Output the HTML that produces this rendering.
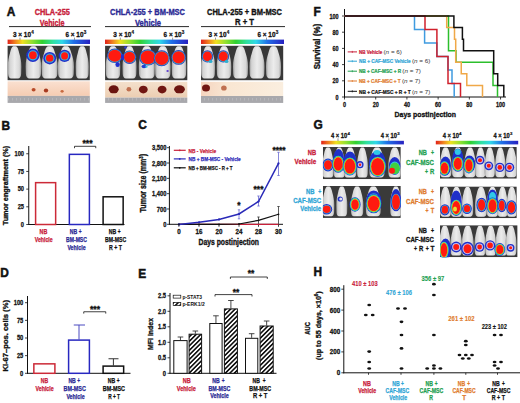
<!DOCTYPE html>
<html><head><meta charset="utf-8"><title>Figure</title>
<style>
html,body{margin:0;padding:0;background:#fff;width:520px;height:403px;overflow:hidden;}
svg{display:block;font-family:"Liberation Sans", sans-serif;}
</style></head>
<body>
<svg width="520" height="403" viewBox="0 0 520 403">
<rect width="520" height="403" fill="#fff"/>
<defs>
<linearGradient id="cbar" x1="0" x2="1" y1="0" y2="0"><stop offset="0" stop-color="#e0201a"/><stop offset="0.09" stop-color="#f08020"/><stop offset="0.18" stop-color="#f0e020"/><stop offset="0.3" stop-color="#90e030"/><stop offset="0.42" stop-color="#30d030"/><stop offset="0.55" stop-color="#30e0a0"/><stop offset="0.66" stop-color="#30d8e8"/><stop offset="0.8" stop-color="#2070e8"/><stop offset="1" stop-color="#2820c0"/></linearGradient>
<linearGradient id="peach" x1="0" x2="0" y1="0" y2="1"><stop offset="0" stop-color="#fae0d0"/><stop offset="1" stop-color="#f5ccb2"/></linearGradient>
<linearGradient id="peach2" x1="0" x2="0" y1="0" y2="1"><stop offset="0" stop-color="#f4e0cc"/><stop offset="1" stop-color="#ecceb2"/></linearGradient>
<linearGradient id="peach3" x1="0" x2="1" y1="0" y2="0"><stop offset="0" stop-color="#f5d4bf"/><stop offset="0.3" stop-color="#f9e6d2"/><stop offset="1" stop-color="#faeedf"/></linearGradient>
<linearGradient id="mouse" x1="0" x2="1" y1="0" y2="0"><stop offset="0" stop-color="#a0a0a0"/><stop offset="0.15" stop-color="#d4d4d4"/><stop offset="0.5" stop-color="#ececec"/><stop offset="0.85" stop-color="#d8d8d8"/><stop offset="1" stop-color="#a4a4a4"/></linearGradient>
<pattern id="hatch" patternUnits="userSpaceOnUse" width="3.2" height="3.2" patternTransform="rotate(45)"><rect width="3.2" height="3.2" fill="#fff"/><rect width="1.6" height="3.2" fill="#111"/></pattern>
<pattern id="ruler" patternUnits="userSpaceOnUse" width="4" height="7"><rect width="4" height="7" fill="#a8a8ac"/><rect x="0" y="0" width="1" height="2.5" fill="#b6b6ba"/><rect x="0" y="4" width="4" height="0.8" fill="#b0b0b4"/></pattern>
</defs>
<text x="6.80" y="16.00" font-size="13.2" fill="#111" font-weight="bold" stroke="#111" stroke-width="0.53" textLength="8.58" lengthAdjust="spacingAndGlyphs" >A</text>
<line x1="9.00" y1="26.60" x2="91.00" y2="26.60" stroke="#111" stroke-width="0.9" />
<line x1="105.00" y1="26.60" x2="189.00" y2="26.60" stroke="#111" stroke-width="0.9" />
<line x1="201.00" y1="26.60" x2="285.00" y2="26.60" stroke="#111" stroke-width="0.9" />
<text x="34.70" y="15.00" font-size="9.1" fill="#c8203a" font-weight="bold" stroke="#c8203a" stroke-width="0.36" textLength="35.20" lengthAdjust="spacingAndGlyphs" >CHLA-255</text>
<text x="39.80" y="25.60" font-size="9.1" fill="#c8203a" font-weight="bold" stroke="#c8203a" stroke-width="0.36" textLength="24.80" lengthAdjust="spacingAndGlyphs" >Vehicle</text>
<text x="110.00" y="15.00" font-size="9.1" fill="#2b2a95" font-weight="bold" stroke="#2b2a95" stroke-width="0.36" textLength="75.00" lengthAdjust="spacingAndGlyphs" >CHLA-255 + BM-MSC</text>
<text x="135.00" y="25.60" font-size="9.1" fill="#2b2a95" font-weight="bold" stroke="#2b2a95" stroke-width="0.36" textLength="26.00" lengthAdjust="spacingAndGlyphs" >Vehicle</text>
<text x="207.00" y="15.00" font-size="9.1" fill="#111" font-weight="bold" stroke="#111" stroke-width="0.36" textLength="75.00" lengthAdjust="spacingAndGlyphs" >CHLA-255 + BM-MSC</text>
<text x="235.00" y="25.20" font-size="9.1" fill="#111" font-weight="bold" stroke="#111" stroke-width="0.36" textLength="19.00" lengthAdjust="spacingAndGlyphs" >R + T</text>
<text x="13.00" y="37.20" font-size="7.7" fill="#111" font-weight="bold" stroke="#111" stroke-width="0.31" textLength="18.00" lengthAdjust="spacingAndGlyphs" >3 × 10</text>
<text x="31.20" y="34.20" font-size="4.6" fill="#111" font-weight="bold" stroke="#111" stroke-width="0.18" >4</text>
<text x="65.50" y="37.20" font-size="7.7" fill="#111" font-weight="bold" stroke="#111" stroke-width="0.31" textLength="18.00" lengthAdjust="spacingAndGlyphs" >6 × 10</text>
<text x="83.70" y="34.20" font-size="4.6" fill="#111" font-weight="bold" stroke="#111" stroke-width="0.18" >3</text>
<rect x="7.60" y="39.60" width="82.40" height="4.40" fill="url(#cbar)" stroke="none" stroke-width="1.0" />
<line x1="20.00" y1="37.60" x2="20.00" y2="39.80" stroke="#555" stroke-width="0.6" />
<line x1="74.50" y1="37.60" x2="74.50" y2="39.80" stroke="#555" stroke-width="0.6" />
<text x="113.30" y="37.20" font-size="7.7" fill="#111" font-weight="bold" stroke="#111" stroke-width="0.31" textLength="18.00" lengthAdjust="spacingAndGlyphs" >3 × 10</text>
<text x="131.50" y="34.20" font-size="4.6" fill="#111" font-weight="bold" stroke="#111" stroke-width="0.18" >4</text>
<text x="163.60" y="37.20" font-size="7.7" fill="#111" font-weight="bold" stroke="#111" stroke-width="0.31" textLength="18.00" lengthAdjust="spacingAndGlyphs" >6 × 10</text>
<text x="181.80" y="34.20" font-size="4.6" fill="#111" font-weight="bold" stroke="#111" stroke-width="0.18" >3</text>
<rect x="105.00" y="39.60" width="83.00" height="4.40" fill="url(#cbar)" stroke="none" stroke-width="1.0" />
<line x1="120.30" y1="37.60" x2="120.30" y2="39.80" stroke="#555" stroke-width="0.6" />
<line x1="172.60" y1="37.60" x2="172.60" y2="39.80" stroke="#555" stroke-width="0.6" />
<text x="208.50" y="37.20" font-size="7.7" fill="#111" font-weight="bold" stroke="#111" stroke-width="0.31" textLength="18.00" lengthAdjust="spacingAndGlyphs" >3 × 10</text>
<text x="226.70" y="34.20" font-size="4.6" fill="#111" font-weight="bold" stroke="#111" stroke-width="0.18" >4</text>
<text x="257.50" y="37.20" font-size="7.7" fill="#111" font-weight="bold" stroke="#111" stroke-width="0.31" textLength="18.00" lengthAdjust="spacingAndGlyphs" >6 × 10</text>
<text x="275.70" y="34.20" font-size="4.6" fill="#111" font-weight="bold" stroke="#111" stroke-width="0.18" >3</text>
<rect x="201.00" y="39.60" width="83.00" height="4.40" fill="url(#cbar)" stroke="none" stroke-width="1.0" />
<line x1="215.50" y1="37.60" x2="215.50" y2="39.80" stroke="#555" stroke-width="0.6" />
<line x1="266.50" y1="37.60" x2="266.50" y2="39.80" stroke="#555" stroke-width="0.6" />
<rect x="7.60" y="45.80" width="82.20" height="34.40" fill="#383838" stroke="none" stroke-width="1.0" />
<path d="M13.12,46.30 L16.09,46.30 C17.43,46.98 18.52,49.69 19.19,53.08 C20.54,57.83 21.35,61.22 21.35,66.64 L21.15,74.10 Q20.81,78.50 17.98,78.50 L11.22,78.50 Q8.39,78.50 8.05,74.10 L7.85,66.64 C7.85,61.22 8.66,57.83 10.01,53.08 C10.69,49.69 11.77,46.98 13.12,46.30 Z" fill="url(#mouse)"/>
<path d="M31.70,46.30 L35.10,46.30 C36.66,46.98 37.89,49.69 38.67,53.08 C40.22,57.83 41.15,61.22 41.15,66.64 L40.92,74.10 Q40.53,78.50 37.27,78.50 L29.52,78.50 Q26.27,78.50 25.88,74.10 L25.65,66.64 C25.65,61.22 26.58,57.83 28.13,53.08 C28.90,49.69 30.14,46.98 31.70,46.30 Z" fill="url(#mouse)"/>
<path d="M47.84,46.30 L51.36,46.30 C52.96,46.98 54.24,49.69 55.04,53.08 C56.64,57.83 57.60,61.22 57.60,66.64 L57.36,74.10 Q56.96,78.50 53.60,78.50 L45.60,78.50 Q42.24,78.50 41.84,74.10 L41.60,66.64 C41.60,61.22 42.56,57.83 44.16,53.08 C44.96,49.69 46.24,46.98 47.84,46.30 Z" fill="url(#mouse)"/>
<path d="M64.14,46.30 L67.66,46.30 C69.26,46.98 70.54,49.69 71.34,53.08 C72.94,57.83 73.90,61.22 73.90,66.64 L73.66,74.10 Q73.26,78.50 69.90,78.50 L61.90,78.50 Q58.54,78.50 58.14,74.10 L57.90,66.64 C57.90,61.22 58.86,57.83 60.46,53.08 C61.26,49.69 62.54,46.98 64.14,46.30 Z" fill="url(#mouse)"/>
<path d="M80.77,46.30 L83.63,46.30 C84.93,46.98 85.97,49.69 86.62,53.08 C87.92,57.83 88.70,61.22 88.70,66.64 L88.50,74.10 Q88.18,78.50 85.45,78.50 L78.95,78.50 Q76.22,78.50 75.90,74.10 L75.70,66.64 C75.70,61.22 76.48,57.83 77.78,53.08 C78.43,49.69 79.47,46.98 80.77,46.30 Z" fill="url(#mouse)"/>
<ellipse cx="32.90" cy="55.30" rx="6.60" ry="6.80" fill="#2230c8" />
<ellipse cx="32.90" cy="55.30" rx="4.95" ry="5.10" fill="#30b8e0" />
<ellipse cx="32.90" cy="55.30" rx="3.83" ry="3.94" fill="#ff1a10" />
<ellipse cx="49.70" cy="58.20" rx="6.40" ry="6.20" fill="#2230c8" />
<ellipse cx="49.70" cy="58.20" rx="4.80" ry="4.65" fill="#30b8e0" />
<ellipse cx="49.70" cy="58.20" rx="3.71" ry="3.60" fill="#ff1a10" />
<ellipse cx="64.60" cy="55.90" rx="6.00" ry="6.20" fill="#2230c8" />
<ellipse cx="64.60" cy="55.90" rx="4.50" ry="4.65" fill="#30b8e0" />
<ellipse cx="64.60" cy="55.90" rx="3.48" ry="3.60" fill="#ff1a10" />
<rect x="105.10" y="45.80" width="82.20" height="34.40" fill="#383838" stroke="none" stroke-width="1.0" />
<path d="M111.41,46.30 L114.59,46.30 C116.05,46.98 117.20,49.69 117.93,53.08 C119.38,57.83 120.25,61.22 120.25,66.64 L120.03,74.10 Q119.67,78.50 116.62,78.50 L109.38,78.50 Q106.33,78.50 105.97,74.10 L105.75,66.64 C105.75,61.22 106.62,57.83 108.07,53.08 C108.80,49.69 109.95,46.98 111.41,46.30 Z" fill="url(#mouse)"/>
<path d="M127.96,46.30 L131.04,46.30 C132.44,46.98 133.56,49.69 134.26,53.08 C135.66,57.83 136.50,61.22 136.50,66.64 L136.29,74.10 Q135.94,78.50 133.00,78.50 L126.00,78.50 Q123.06,78.50 122.71,74.10 L122.50,66.64 C122.50,61.22 123.34,57.83 124.74,53.08 C125.44,49.69 126.56,46.98 127.96,46.30 Z" fill="url(#mouse)"/>
<path d="M145.04,46.30 L148.56,46.30 C150.16,46.98 151.44,49.69 152.24,53.08 C153.84,57.83 154.80,61.22 154.80,66.64 L154.56,74.10 Q154.16,78.50 150.80,78.50 L142.80,78.50 Q139.44,78.50 139.04,74.10 L138.80,66.64 C138.80,61.22 139.76,57.83 141.36,53.08 C142.16,49.69 143.44,46.98 145.04,46.30 Z" fill="url(#mouse)"/>
<path d="M161.09,46.30 L164.51,46.30 C166.06,46.98 167.30,49.69 168.07,53.08 C169.62,57.83 170.55,61.22 170.55,66.64 L170.32,74.10 Q169.93,78.50 166.68,78.50 L158.93,78.50 Q155.67,78.50 155.28,74.10 L155.05,66.64 C155.05,61.22 155.98,57.83 157.53,53.08 C158.31,49.69 159.55,46.98 161.09,46.30 Z" fill="url(#mouse)"/>
<path d="M177.41,46.30 L180.59,46.30 C182.04,46.98 183.21,49.69 183.93,53.08 C185.38,57.83 186.25,61.22 186.25,66.64 L186.03,74.10 Q185.67,78.50 182.62,78.50 L175.38,78.50 Q172.33,78.50 171.97,74.10 L171.75,66.64 C171.75,61.22 172.62,57.83 174.07,53.08 C174.79,49.69 175.96,46.98 177.41,46.30 Z" fill="url(#mouse)"/>
<ellipse cx="114.80" cy="55.80" rx="7.80" ry="7.30" fill="#2838c0" />
<ellipse cx="114.80" cy="55.80" rx="7.10" ry="6.60" fill="#30b0c8" />
<ellipse cx="114.80" cy="55.80" rx="6.50" ry="6.00" fill="#ff1a10" />
<ellipse cx="129.50" cy="57.20" rx="6.80" ry="6.80" fill="#2838c0" />
<ellipse cx="129.50" cy="57.20" rx="6.10" ry="6.10" fill="#30b0c8" />
<ellipse cx="129.50" cy="57.20" rx="5.50" ry="5.50" fill="#ff1a10" />
<ellipse cx="147.90" cy="57.40" rx="8.60" ry="8.20" fill="#2838c0" />
<ellipse cx="147.90" cy="57.40" rx="7.90" ry="7.50" fill="#30b0c8" />
<ellipse cx="147.90" cy="57.40" rx="7.30" ry="6.90" fill="#ff1a10" />
<ellipse cx="161.70" cy="58.30" rx="8.00" ry="8.00" fill="#2838c0" />
<ellipse cx="161.70" cy="58.30" rx="7.30" ry="7.30" fill="#30b0c8" />
<ellipse cx="161.70" cy="58.30" rx="6.70" ry="6.70" fill="#ff1a10" />
<ellipse cx="178.60" cy="57.40" rx="7.40" ry="7.40" fill="#2838c0" />
<ellipse cx="178.60" cy="57.40" rx="6.70" ry="6.70" fill="#30b0c8" />
<ellipse cx="178.60" cy="57.40" rx="6.10" ry="6.10" fill="#ff1a10" />
<rect x="201.00" y="45.80" width="82.20" height="34.40" fill="#383838" stroke="none" stroke-width="1.0" />
<path d="M206.46,46.30 L209.54,46.30 C210.94,46.98 212.06,49.69 212.76,53.08 C214.16,57.83 215.00,61.22 215.00,66.64 L214.79,74.10 Q214.44,78.50 211.50,78.50 L204.50,78.50 Q201.56,78.50 201.21,74.10 L201.00,66.64 C201.00,61.22 201.84,57.83 203.24,53.08 C203.94,49.69 205.06,46.98 206.46,46.30 Z" fill="url(#mouse)"/>
<path d="M222.41,46.30 L225.59,46.30 C227.04,46.98 228.21,49.69 228.93,53.08 C230.38,57.83 231.25,61.22 231.25,66.64 L231.03,74.10 Q230.67,78.50 227.62,78.50 L220.38,78.50 Q217.33,78.50 216.97,74.10 L216.75,66.64 C216.75,61.22 217.62,57.83 219.07,53.08 C219.79,49.69 220.96,46.98 222.41,46.30 Z" fill="url(#mouse)"/>
<path d="M238.85,46.30 L242.15,46.30 C243.65,46.98 244.85,49.69 245.60,53.08 C247.10,57.83 248.00,61.22 248.00,66.64 L247.78,74.10 Q247.40,78.50 244.25,78.50 L236.75,78.50 Q233.60,78.50 233.22,74.10 L233.00,66.64 C233.00,61.22 233.90,57.83 235.40,53.08 C236.15,49.69 237.35,46.98 238.85,46.30 Z" fill="url(#mouse)"/>
<path d="M255.35,46.30 L258.65,46.30 C260.15,46.98 261.35,49.69 262.10,53.08 C263.60,57.83 264.50,61.22 264.50,66.64 L264.27,74.10 Q263.90,78.50 260.75,78.50 L253.25,78.50 Q250.10,78.50 249.72,74.10 L249.50,66.64 C249.50,61.22 250.40,57.83 251.90,53.08 C252.65,49.69 253.85,46.98 255.35,46.30 Z" fill="url(#mouse)"/>
<path d="M271.85,46.30 L275.15,46.30 C276.65,46.98 277.85,49.69 278.60,53.08 C280.10,57.83 281.00,61.22 281.00,66.64 L280.77,74.10 Q280.40,78.50 277.25,78.50 L269.75,78.50 Q266.60,78.50 266.23,74.10 L266.00,66.64 C266.00,61.22 266.90,57.83 268.40,53.08 C269.15,49.69 270.35,46.98 271.85,46.30 Z" fill="url(#mouse)"/>
<ellipse cx="207.40" cy="56.40" rx="5.80" ry="6.20" fill="#2838c0" />
<ellipse cx="207.40" cy="56.40" rx="5.10" ry="5.50" fill="#30b0c8" />
<ellipse cx="207.40" cy="56.40" rx="4.50" ry="4.90" fill="#ff1a10" />
<ellipse cx="223.30" cy="56.40" rx="5.80" ry="6.20" fill="#2838c0" />
<ellipse cx="223.30" cy="56.40" rx="5.10" ry="5.50" fill="#30b0c8" />
<ellipse cx="223.30" cy="56.40" rx="4.50" ry="4.90" fill="#ff1a10" />
<ellipse cx="117.60" cy="64.50" rx="2.20" ry="2.60" fill="#2030d0" />
<ellipse cx="122.50" cy="57.00" rx="1.60" ry="3.00" fill="#2030d0" />
<ellipse cx="144.00" cy="66.50" rx="2.50" ry="1.80" fill="#2040d0" />
<ellipse cx="146.50" cy="66.80" rx="1.20" ry="1.00" fill="#30c0e0" />
<ellipse cx="167.60" cy="71.00" rx="1.20" ry="0.90" fill="#6040d0" />
<ellipse cx="125.50" cy="47.50" rx="1.30" ry="1.30" fill="#3040d0" />
<ellipse cx="210.50" cy="61.50" rx="2.00" ry="1.50" fill="#30b0d0" />
<ellipse cx="226.50" cy="61.50" rx="2.00" ry="1.50" fill="#30b0d0" />
<rect x="7.60" y="81.30" width="82.20" height="14.60" fill="url(#peach)" stroke="none" stroke-width="1.0" />
<rect x="105.10" y="81.80" width="82.20" height="15.80" fill="url(#peach2)" stroke="none" stroke-width="1.0" />
<rect x="201.00" y="81.80" width="82.20" height="14.20" fill="url(#peach3)" stroke="none" stroke-width="1.0" />
<rect x="7.60" y="95.90" width="82.20" height="7.10" fill="url(#ruler)" stroke="none" stroke-width="1.0" />
<rect x="105.10" y="97.60" width="82.20" height="5.40" fill="url(#ruler)" stroke="none" stroke-width="1.0" />
<rect x="201.00" y="96.00" width="82.20" height="7.00" fill="url(#ruler)" stroke="none" stroke-width="1.0" />
<ellipse cx="33.60" cy="89.70" rx="2.00" ry="1.80" fill="#b84a28" />
<ellipse cx="46.00" cy="90.50" rx="2.20" ry="1.90" fill="#a83a20" />
<ellipse cx="62.10" cy="91.30" rx="1.60" ry="1.40" fill="#c86a40" />
<ellipse cx="113.70" cy="89.30" rx="5.00" ry="4.00" fill="#6a1410" />
<ellipse cx="128.90" cy="89.30" rx="2.40" ry="2.20" fill="#c07050" />
<ellipse cx="143.30" cy="89.60" rx="4.40" ry="3.90" fill="#701612" />
<ellipse cx="162.10" cy="89.60" rx="4.40" ry="3.90" fill="#701612" />
<ellipse cx="179.50" cy="89.30" rx="5.40" ry="4.00" fill="#6c1511" />
<ellipse cx="206.00" cy="87.90" rx="4.00" ry="3.50" fill="#701612" />
<ellipse cx="223.90" cy="88.00" rx="2.80" ry="2.60" fill="#c07050" />
<text x="313.41" y="15.50" font-size="13.2" fill="#111" font-weight="bold" stroke="#111" stroke-width="0.53" textLength="7.26" lengthAdjust="spacingAndGlyphs" >F</text>
<line x1="344.50" y1="9.00" x2="344.50" y2="97.50" stroke="#111" stroke-width="1.0" />
<line x1="344.00" y1="97.00" x2="506.00" y2="97.00" stroke="#111" stroke-width="1.0" />
<line x1="342.00" y1="97.00" x2="344.50" y2="97.00" stroke="#111" stroke-width="0.8" />
<text x="338.60" y="99.66" font-size="7.6" fill="#111" font-weight="bold" stroke="#111" stroke-width="0.30" text-anchor="end" textLength="3.04" lengthAdjust="spacingAndGlyphs" >0</text>
<line x1="342.00" y1="80.80" x2="344.50" y2="80.80" stroke="#111" stroke-width="0.8" />
<text x="338.60" y="83.46" font-size="7.6" fill="#111" font-weight="bold" stroke="#111" stroke-width="0.30" text-anchor="end" textLength="6.09" lengthAdjust="spacingAndGlyphs" >20</text>
<line x1="342.00" y1="64.60" x2="344.50" y2="64.60" stroke="#111" stroke-width="0.8" />
<text x="338.60" y="67.26" font-size="7.6" fill="#111" font-weight="bold" stroke="#111" stroke-width="0.30" text-anchor="end" textLength="6.09" lengthAdjust="spacingAndGlyphs" >40</text>
<line x1="342.00" y1="48.40" x2="344.50" y2="48.40" stroke="#111" stroke-width="0.8" />
<text x="338.60" y="51.06" font-size="7.6" fill="#111" font-weight="bold" stroke="#111" stroke-width="0.30" text-anchor="end" textLength="6.09" lengthAdjust="spacingAndGlyphs" >60</text>
<line x1="342.00" y1="32.20" x2="344.50" y2="32.20" stroke="#111" stroke-width="0.8" />
<text x="338.60" y="34.86" font-size="7.6" fill="#111" font-weight="bold" stroke="#111" stroke-width="0.30" text-anchor="end" textLength="6.09" lengthAdjust="spacingAndGlyphs" >80</text>
<line x1="342.00" y1="16.00" x2="344.50" y2="16.00" stroke="#111" stroke-width="0.8" />
<text x="338.60" y="18.66" font-size="7.6" fill="#111" font-weight="bold" stroke="#111" stroke-width="0.30" text-anchor="end" textLength="9.13" lengthAdjust="spacingAndGlyphs" >100</text>
<line x1="344.50" y1="97.00" x2="344.50" y2="99.50" stroke="#111" stroke-width="0.8" />
<text x="344.50" y="106.60" font-size="6.8" fill="#111" font-weight="bold" stroke="#111" stroke-width="0.27" text-anchor="middle" textLength="3.03" lengthAdjust="spacingAndGlyphs" >0</text>
<line x1="375.71" y1="97.00" x2="375.71" y2="99.50" stroke="#111" stroke-width="0.8" />
<text x="375.71" y="106.60" font-size="6.8" fill="#111" font-weight="bold" stroke="#111" stroke-width="0.27" text-anchor="middle" textLength="6.05" lengthAdjust="spacingAndGlyphs" >20</text>
<line x1="406.92" y1="97.00" x2="406.92" y2="99.50" stroke="#111" stroke-width="0.8" />
<text x="406.92" y="106.60" font-size="6.8" fill="#111" font-weight="bold" stroke="#111" stroke-width="0.27" text-anchor="middle" textLength="6.05" lengthAdjust="spacingAndGlyphs" >40</text>
<line x1="438.13" y1="97.00" x2="438.13" y2="99.50" stroke="#111" stroke-width="0.8" />
<text x="438.13" y="106.60" font-size="6.8" fill="#111" font-weight="bold" stroke="#111" stroke-width="0.27" text-anchor="middle" textLength="6.05" lengthAdjust="spacingAndGlyphs" >60</text>
<line x1="469.34" y1="97.00" x2="469.34" y2="99.50" stroke="#111" stroke-width="0.8" />
<text x="469.34" y="106.60" font-size="6.8" fill="#111" font-weight="bold" stroke="#111" stroke-width="0.27" text-anchor="middle" textLength="6.05" lengthAdjust="spacingAndGlyphs" >80</text>
<line x1="500.55" y1="97.00" x2="500.55" y2="99.50" stroke="#111" stroke-width="0.8" />
<text x="500.55" y="106.60" font-size="6.8" fill="#111" font-weight="bold" stroke="#111" stroke-width="0.27" text-anchor="middle" textLength="9.08" lengthAdjust="spacingAndGlyphs" >100</text>
<text x="394.60" y="117.30" font-size="8.0" fill="#111" font-weight="bold" stroke="#111" stroke-width="0.32" textLength="61.40" lengthAdjust="spacingAndGlyphs" >Days postinjection</text>
<text x="320.20" y="46.60" font-size="9.6" fill="#111" font-weight="bold" stroke="#111" stroke-width="0.38" text-anchor="middle" textLength="45.40" lengthAdjust="spacingAndGlyphs" transform="rotate(-90 320.20 46.60)" >Survival (%)</text>
<polyline points="344.50,16.00 448.50,16.00 448.50,50.75 456.00,50.75 456.00,62.25 493.00,62.25 493.00,85.42 497.50,85.42 497.50,97.00" fill="none" stroke="#2cbf2c" stroke-width="1.5" />
<polyline points="344.50,16.00 446.70,16.00 446.70,27.58 454.50,27.58 454.50,39.17 455.70,39.17 455.70,62.25 461.25,62.25 461.25,73.83 466.80,73.83 466.80,85.42 482.50,85.42 482.50,97.00" fill="none" stroke="#f0a848" stroke-width="1.5" />
<polyline points="344.50,16.00 414.50,16.00 414.50,29.53 424.60,29.53 424.60,42.97 436.90,42.97 436.90,56.50 448.00,56.50 448.00,70.03 452.00,70.03 452.00,83.47 454.20,83.47 454.20,97.00" fill="none" stroke="#3f9be0" stroke-width="1.5" />
<polyline points="344.50,16.00 425.00,16.00 425.00,29.53 436.90,29.53 436.90,56.50 448.00,56.50 448.00,83.47 460.50,83.47 460.50,97.00" fill="none" stroke="#d0202c" stroke-width="1.5" />
<polyline points="344.50,16.00 453.90,16.00 453.90,27.58 462.40,27.58 462.40,39.17 463.50,39.17 463.50,50.75 493.70,50.75 493.70,73.83 497.70,73.83 497.70,85.42 503.80,85.42 503.80,97.00" fill="none" stroke="#111" stroke-width="1.5" />
<line x1="347.70" y1="51.90" x2="357.00" y2="51.90" stroke="#c8203a" stroke-width="1.0" />
<line x1="352.30" y1="50.90" x2="352.30" y2="52.90" stroke="#c8203a" stroke-width="0.8" />
<text x="359.00" y="54.10" font-size="6.0" fill="#c8203a" font-weight="bold" stroke="#c8203a" stroke-width="0.24" textLength="23.30" lengthAdjust="spacingAndGlyphs" >NB Vehicle</text>
<text x="383.50" y="54.10" font-size="6.0" fill="#333" font-weight="normal" textLength="18.5" lengthAdjust="spacingAndGlyphs">(<tspan font-style="italic">n</tspan> = 6)</text>
<line x1="347.70" y1="61.20" x2="357.00" y2="61.20" stroke="#2fa6d6" stroke-width="1.0" />
<line x1="352.30" y1="60.20" x2="352.30" y2="62.20" stroke="#2fa6d6" stroke-width="0.8" />
<text x="359.00" y="63.40" font-size="6.0" fill="#2fa6d6" font-weight="bold" stroke="#2fa6d6" stroke-width="0.24" textLength="51.70" lengthAdjust="spacingAndGlyphs" >NB + CAF-MSC Vehicle</text>
<text x="411.90" y="63.40" font-size="6.0" fill="#333" font-weight="normal" textLength="18.5" lengthAdjust="spacingAndGlyphs">(<tspan font-style="italic">n</tspan> = 6)</text>
<line x1="347.70" y1="71.20" x2="357.00" y2="71.20" stroke="#22a050" stroke-width="1.0" />
<line x1="352.30" y1="70.20" x2="352.30" y2="72.20" stroke="#22a050" stroke-width="0.8" />
<text x="359.00" y="73.40" font-size="6.0" fill="#22a050" font-weight="bold" stroke="#22a050" stroke-width="0.24" textLength="42.10" lengthAdjust="spacingAndGlyphs" >NB + CAF-MSC + R</text>
<text x="402.30" y="73.40" font-size="6.0" fill="#333" font-weight="normal" textLength="18.5" lengthAdjust="spacingAndGlyphs">(<tspan font-style="italic">n</tspan> = 7)</text>
<line x1="347.70" y1="81.00" x2="357.00" y2="81.00" stroke="#e07b2e" stroke-width="1.0" />
<line x1="352.30" y1="80.00" x2="352.30" y2="82.00" stroke="#e07b2e" stroke-width="0.8" />
<text x="359.00" y="83.20" font-size="6.0" fill="#e07b2e" font-weight="bold" stroke="#e07b2e" stroke-width="0.24" textLength="41.70" lengthAdjust="spacingAndGlyphs" >NB + CAF-MSC + T</text>
<text x="401.90" y="83.20" font-size="6.0" fill="#333" font-weight="normal" textLength="18.5" lengthAdjust="spacingAndGlyphs">(<tspan font-style="italic">n</tspan> = 7)</text>
<line x1="347.70" y1="91.30" x2="357.00" y2="91.30" stroke="#111" stroke-width="1.0" />
<line x1="352.30" y1="90.30" x2="352.30" y2="92.30" stroke="#111" stroke-width="0.8" />
<text x="359.00" y="93.50" font-size="6.0" fill="#111" font-weight="bold" stroke="#111" stroke-width="0.24" textLength="51.70" lengthAdjust="spacingAndGlyphs" >NB + CAF-MSC + R + T</text>
<text x="411.90" y="93.50" font-size="6.0" fill="#333" font-weight="normal" textLength="18.5" lengthAdjust="spacingAndGlyphs">(<tspan font-style="italic">n</tspan> = 7)</text>
<text x="1.41" y="130.30" font-size="13.2" fill="#111" font-weight="bold" stroke="#111" stroke-width="0.53" textLength="8.58" lengthAdjust="spacingAndGlyphs" >B</text>
<line x1="28.75" y1="146.00" x2="28.75" y2="225.00" stroke="#111" stroke-width="1.0" />
<line x1="28.25" y1="224.50" x2="124.50" y2="224.50" stroke="#111" stroke-width="1.0" />
<line x1="26.25" y1="224.50" x2="28.75" y2="224.50" stroke="#111" stroke-width="0.8" />
<text x="24.00" y="226.71" font-size="6.3" fill="#111" font-weight="bold" stroke="#111" stroke-width="0.25" text-anchor="end" textLength="3.15" lengthAdjust="spacingAndGlyphs" >0</text>
<line x1="26.25" y1="206.81" x2="28.75" y2="206.81" stroke="#111" stroke-width="0.8" />
<text x="24.00" y="209.02" font-size="6.3" fill="#111" font-weight="bold" stroke="#111" stroke-width="0.25" text-anchor="end" textLength="6.31" lengthAdjust="spacingAndGlyphs" >25</text>
<line x1="26.25" y1="189.12" x2="28.75" y2="189.12" stroke="#111" stroke-width="0.8" />
<text x="24.00" y="191.33" font-size="6.3" fill="#111" font-weight="bold" stroke="#111" stroke-width="0.25" text-anchor="end" textLength="6.31" lengthAdjust="spacingAndGlyphs" >50</text>
<line x1="26.25" y1="171.44" x2="28.75" y2="171.44" stroke="#111" stroke-width="0.8" />
<text x="24.00" y="173.64" font-size="6.3" fill="#111" font-weight="bold" stroke="#111" stroke-width="0.25" text-anchor="end" textLength="6.31" lengthAdjust="spacingAndGlyphs" >75</text>
<line x1="26.25" y1="153.75" x2="28.75" y2="153.75" stroke="#111" stroke-width="0.8" />
<text x="24.00" y="155.96" font-size="6.3" fill="#111" font-weight="bold" stroke="#111" stroke-width="0.25" text-anchor="end" textLength="9.46" lengthAdjust="spacingAndGlyphs" >100</text>
<text x="7.70" y="185.50" font-size="8.0" fill="#111" font-weight="bold" stroke="#111" stroke-width="0.32" text-anchor="middle" textLength="79.50" lengthAdjust="spacingAndGlyphs" transform="rotate(-90 7.70 185.50)" >Tumor engraftment (%)</text>
<rect x="35.60" y="182.65" width="20.05" height="41.85" fill="#fff" stroke="#cc2a38" stroke-width="1.5" />
<rect x="69.35" y="154.35" width="20.05" height="70.15" fill="#fff" stroke="#2828c0" stroke-width="1.5" />
<rect x="103.10" y="196.80" width="20.05" height="27.70" fill="#fff" stroke="#111" stroke-width="1.5" />
<polyline points="74.50,148.20 74.50,146.30 95.75,146.30 95.75,148.20" fill="none" stroke="#111" stroke-width="0.8" />
<text x="87.50" y="146.40" font-size="8.6" fill="#111" font-weight="bold" stroke="#111" stroke-width="0.34" text-anchor="middle" >***</text>
<text x="39.60" y="234.30" font-size="6.3" fill="#c8203a" font-weight="bold" stroke="#c8203a" stroke-width="0.25" textLength="7.70" lengthAdjust="spacingAndGlyphs" >NB</text>
<text x="34.80" y="242.10" font-size="6.3" fill="#c8203a" font-weight="bold" stroke="#c8203a" stroke-width="0.25" textLength="17.90" lengthAdjust="spacingAndGlyphs" >Vehicle</text>
<text x="69.70" y="234.30" font-size="6.3" fill="#2b2a95" font-weight="bold" stroke="#2b2a95" stroke-width="0.25" textLength="7.40" lengthAdjust="spacingAndGlyphs" >NB</text>
<text x="78.70" y="234.30" font-size="6.3" fill="#2b2a95" font-weight="bold" stroke="#2b2a95" stroke-width="0.25" textLength="2.80" lengthAdjust="spacingAndGlyphs" >+</text>
<text x="66.10" y="242.10" font-size="6.3" fill="#2b2a95" font-weight="bold" stroke="#2b2a95" stroke-width="0.25" textLength="20.80" lengthAdjust="spacingAndGlyphs" >BM-MSC</text>
<text x="67.40" y="249.90" font-size="6.3" fill="#2b2a95" font-weight="bold" stroke="#2b2a95" stroke-width="0.25" textLength="18.20" lengthAdjust="spacingAndGlyphs" >Vehicle</text>
<text x="108.70" y="234.30" font-size="6.3" fill="#111" font-weight="bold" stroke="#111" stroke-width="0.25" textLength="7.40" lengthAdjust="spacingAndGlyphs" >NB</text>
<text x="117.80" y="234.30" font-size="6.3" fill="#111" font-weight="bold" stroke="#111" stroke-width="0.25" textLength="2.80" lengthAdjust="spacingAndGlyphs" >+</text>
<text x="105.10" y="242.10" font-size="6.3" fill="#111" font-weight="bold" stroke="#111" stroke-width="0.25" textLength="21.10" lengthAdjust="spacingAndGlyphs" >BM-MSC</text>
<text x="109.10" y="249.90" font-size="6.3" fill="#111" font-weight="bold" stroke="#111" stroke-width="0.25" textLength="12.80" lengthAdjust="spacingAndGlyphs" >R + T</text>
<text x="138.21" y="129.40" font-size="13.2" fill="#111" font-weight="bold" stroke="#111" stroke-width="0.53" textLength="8.58" lengthAdjust="spacingAndGlyphs" >C</text>
<line x1="169.40" y1="146.00" x2="169.40" y2="224.80" stroke="#111" stroke-width="1.0" />
<line x1="168.90" y1="224.30" x2="283.00" y2="224.30" stroke="#111" stroke-width="1.0" />
<line x1="166.90" y1="224.30" x2="169.40" y2="224.30" stroke="#111" stroke-width="0.8" />
<text x="166.50" y="226.96" font-size="7.6" fill="#111" font-weight="bold" stroke="#111" stroke-width="0.30" text-anchor="end" textLength="3.21" lengthAdjust="spacingAndGlyphs" >0</text>
<line x1="166.90" y1="208.98" x2="169.40" y2="208.98" stroke="#111" stroke-width="0.8" />
<text x="166.50" y="211.64" font-size="7.6" fill="#111" font-weight="bold" stroke="#111" stroke-width="0.30" text-anchor="end" textLength="9.64" lengthAdjust="spacingAndGlyphs" >700</text>
<line x1="166.90" y1="193.66" x2="169.40" y2="193.66" stroke="#111" stroke-width="0.8" />
<text x="166.50" y="196.32" font-size="7.6" fill="#111" font-weight="bold" stroke="#111" stroke-width="0.30" text-anchor="end" textLength="14.45" lengthAdjust="spacingAndGlyphs" >1,400</text>
<line x1="166.90" y1="178.34" x2="169.40" y2="178.34" stroke="#111" stroke-width="0.8" />
<text x="166.50" y="181.00" font-size="7.6" fill="#111" font-weight="bold" stroke="#111" stroke-width="0.30" text-anchor="end" textLength="14.45" lengthAdjust="spacingAndGlyphs" >2,100</text>
<line x1="166.90" y1="163.02" x2="169.40" y2="163.02" stroke="#111" stroke-width="0.8" />
<text x="166.50" y="165.68" font-size="7.6" fill="#111" font-weight="bold" stroke="#111" stroke-width="0.30" text-anchor="end" textLength="14.45" lengthAdjust="spacingAndGlyphs" >2,800</text>
<line x1="166.90" y1="147.70" x2="169.40" y2="147.70" stroke="#111" stroke-width="0.8" />
<text x="166.50" y="150.36" font-size="7.6" fill="#111" font-weight="bold" stroke="#111" stroke-width="0.30" text-anchor="end" textLength="14.45" lengthAdjust="spacingAndGlyphs" >3,500</text>
<line x1="178.90" y1="224.30" x2="178.90" y2="226.80" stroke="#111" stroke-width="0.8" />
<text x="178.90" y="234.00" font-size="7.6" fill="#111" font-weight="bold" stroke="#111" stroke-width="0.30" text-anchor="middle" textLength="3.47" lengthAdjust="spacingAndGlyphs" >0</text>
<line x1="199.00" y1="224.30" x2="199.00" y2="226.80" stroke="#111" stroke-width="0.8" />
<text x="199.00" y="234.00" font-size="7.6" fill="#111" font-weight="bold" stroke="#111" stroke-width="0.30" text-anchor="middle" textLength="6.93" lengthAdjust="spacingAndGlyphs" >16</text>
<line x1="219.00" y1="224.30" x2="219.00" y2="226.80" stroke="#111" stroke-width="0.8" />
<text x="219.00" y="234.00" font-size="7.6" fill="#111" font-weight="bold" stroke="#111" stroke-width="0.30" text-anchor="middle" textLength="6.93" lengthAdjust="spacingAndGlyphs" >20</text>
<line x1="239.00" y1="224.30" x2="239.00" y2="226.80" stroke="#111" stroke-width="0.8" />
<text x="239.00" y="234.00" font-size="7.6" fill="#111" font-weight="bold" stroke="#111" stroke-width="0.30" text-anchor="middle" textLength="6.93" lengthAdjust="spacingAndGlyphs" >24</text>
<line x1="258.50" y1="224.30" x2="258.50" y2="226.80" stroke="#111" stroke-width="0.8" />
<text x="258.50" y="234.00" font-size="7.6" fill="#111" font-weight="bold" stroke="#111" stroke-width="0.30" text-anchor="middle" textLength="6.93" lengthAdjust="spacingAndGlyphs" >28</text>
<line x1="278.50" y1="224.30" x2="278.50" y2="226.80" stroke="#111" stroke-width="0.8" />
<text x="278.50" y="234.00" font-size="7.6" fill="#111" font-weight="bold" stroke="#111" stroke-width="0.30" text-anchor="middle" textLength="6.93" lengthAdjust="spacingAndGlyphs" >30</text>
<text x="198.50" y="244.60" font-size="8.3" fill="#111" font-weight="bold" stroke="#111" stroke-width="0.33" textLength="60.50" lengthAdjust="spacingAndGlyphs" >Days postinjection</text>
<text x="145.60" y="183.20" font-size="8.4" fill="#111" font-weight="bold" stroke="#111" stroke-width="0.34" text-anchor="middle" textLength="58.60" lengthAdjust="spacingAndGlyphs" transform="rotate(-90 145.60 183.20)" >Tumor size (mm<tspan dy="-2.5" font-size="5">3</tspan><tspan dy="2.5">)</tspan></text>
<line x1="239.00" y1="209.80" x2="239.00" y2="218.80" stroke="#6a6ad0" stroke-width="0.8" />
<line x1="237.80" y1="209.80" x2="240.20" y2="209.80" stroke="#6a6ad0" stroke-width="0.8" />
<line x1="237.80" y1="218.80" x2="240.20" y2="218.80" stroke="#6a6ad0" stroke-width="0.8" />
<line x1="258.50" y1="196.00" x2="258.50" y2="206.00" stroke="#6a6ad0" stroke-width="0.8" />
<line x1="257.30" y1="196.00" x2="259.70" y2="196.00" stroke="#6a6ad0" stroke-width="0.8" />
<line x1="257.30" y1="206.00" x2="259.70" y2="206.00" stroke="#6a6ad0" stroke-width="0.8" />
<line x1="278.50" y1="152.30" x2="278.50" y2="175.50" stroke="#6a6ad0" stroke-width="0.8" />
<line x1="277.30" y1="152.30" x2="279.70" y2="152.30" stroke="#6a6ad0" stroke-width="0.8" />
<line x1="277.30" y1="175.50" x2="279.70" y2="175.50" stroke="#6a6ad0" stroke-width="0.8" />
<line x1="258.50" y1="217.00" x2="258.50" y2="224.00" stroke="#333" stroke-width="0.8" />
<line x1="257.30" y1="217.00" x2="259.70" y2="217.00" stroke="#333" stroke-width="0.8" />
<line x1="278.50" y1="206.50" x2="278.50" y2="224.00" stroke="#333" stroke-width="0.8" />
<line x1="277.30" y1="206.50" x2="279.70" y2="206.50" stroke="#333" stroke-width="0.8" />
<polyline points="178.90,224.30 199.00,224.30 219.00,224.30 239.00,224.30 258.50,224.30 278.50,224.30" fill="none" stroke="#c8203a" stroke-width="1.3" />
<polyline points="178.90,224.40 199.00,224.40 219.00,224.40 239.00,224.00 258.50,220.30 278.50,214.30" fill="none" stroke="#111" stroke-width="1.2" />
<polyline points="178.90,224.40 199.00,222.30 219.00,219.40 239.00,214.00 258.50,201.50 278.50,163.40" fill="none" stroke="#2a2ab8" stroke-width="1.5" />
<ellipse cx="178.90" cy="224.40" rx="1.10" ry="1.10" fill="#2a2ab8" />
<ellipse cx="199.00" cy="222.30" rx="1.10" ry="1.10" fill="#2a2ab8" />
<ellipse cx="219.00" cy="219.40" rx="1.10" ry="1.10" fill="#2a2ab8" />
<ellipse cx="239.00" cy="214.00" rx="1.10" ry="1.10" fill="#2a2ab8" />
<ellipse cx="258.50" cy="201.50" rx="1.10" ry="1.10" fill="#2a2ab8" />
<ellipse cx="278.50" cy="163.40" rx="1.10" ry="1.10" fill="#2a2ab8" />
<ellipse cx="178.90" cy="224.40" rx="0.90" ry="0.90" fill="#111" />
<ellipse cx="199.00" cy="224.40" rx="0.90" ry="0.90" fill="#111" />
<ellipse cx="219.00" cy="224.40" rx="0.90" ry="0.90" fill="#111" />
<ellipse cx="239.00" cy="224.00" rx="0.90" ry="0.90" fill="#111" />
<ellipse cx="258.50" cy="220.30" rx="0.90" ry="0.90" fill="#111" />
<ellipse cx="278.50" cy="214.30" rx="0.90" ry="0.90" fill="#111" />
<text x="239.00" y="208.30" font-size="8.4" fill="#111" font-weight="bold" stroke="#111" stroke-width="0.34" text-anchor="middle" >*</text>
<text x="258.50" y="191.80" font-size="8.4" fill="#111" font-weight="bold" stroke="#111" stroke-width="0.34" text-anchor="middle" >***</text>
<text x="279.00" y="152.80" font-size="8.4" fill="#111" font-weight="bold" stroke="#111" stroke-width="0.34" text-anchor="middle" >****</text>
<line x1="173.80" y1="150.30" x2="185.70" y2="150.30" stroke="#c8203a" stroke-width="1.2" />
<ellipse cx="179.75" cy="150.30" rx="0.90" ry="0.90" fill="#c8203a" />
<text x="188.60" y="152.50" font-size="6.2" fill="#c8203a" font-weight="bold" stroke="#c8203a" stroke-width="0.25" textLength="27.65" lengthAdjust="spacingAndGlyphs" >NB - Vehicle</text>
<line x1="173.80" y1="158.90" x2="185.70" y2="158.90" stroke="#2a2ab8" stroke-width="1.2" />
<ellipse cx="179.75" cy="158.90" rx="0.90" ry="0.90" fill="#2a2ab8" />
<text x="188.60" y="161.10" font-size="6.2" fill="#2a2ab8" font-weight="bold" stroke="#2a2ab8" stroke-width="0.25" textLength="52.15" lengthAdjust="spacingAndGlyphs" >NB + BM-MSC - Vehicle</text>
<line x1="173.80" y1="167.80" x2="185.70" y2="167.80" stroke="#111" stroke-width="1.2" />
<ellipse cx="179.75" cy="167.80" rx="0.90" ry="0.90" fill="#111" />
<text x="188.60" y="170.00" font-size="6.2" fill="#111" font-weight="bold" stroke="#111" stroke-width="0.25" textLength="43.90" lengthAdjust="spacingAndGlyphs" >NB + BM-MSC - R + T</text>
<text x="0.31" y="276.90" font-size="13.2" fill="#111" font-weight="bold" stroke="#111" stroke-width="0.53" textLength="8.58" lengthAdjust="spacingAndGlyphs" >D</text>
<line x1="27.50" y1="296.00" x2="27.50" y2="373.80" stroke="#111" stroke-width="1.0" />
<line x1="27.00" y1="373.30" x2="130.50" y2="373.30" stroke="#111" stroke-width="1.0" />
<line x1="25.00" y1="373.30" x2="27.50" y2="373.30" stroke="#111" stroke-width="0.8" />
<text x="23.30" y="375.72" font-size="6.9" fill="#111" font-weight="bold" stroke="#111" stroke-width="0.28" text-anchor="end" textLength="3.19" lengthAdjust="spacingAndGlyphs" >0</text>
<line x1="25.00" y1="355.65" x2="27.50" y2="355.65" stroke="#111" stroke-width="0.8" />
<text x="23.30" y="358.07" font-size="6.9" fill="#111" font-weight="bold" stroke="#111" stroke-width="0.28" text-anchor="end" textLength="6.37" lengthAdjust="spacingAndGlyphs" >25</text>
<line x1="25.00" y1="338.00" x2="27.50" y2="338.00" stroke="#111" stroke-width="0.8" />
<text x="23.30" y="340.42" font-size="6.9" fill="#111" font-weight="bold" stroke="#111" stroke-width="0.28" text-anchor="end" textLength="6.37" lengthAdjust="spacingAndGlyphs" >50</text>
<line x1="25.00" y1="320.35" x2="27.50" y2="320.35" stroke="#111" stroke-width="0.8" />
<text x="23.30" y="322.77" font-size="6.9" fill="#111" font-weight="bold" stroke="#111" stroke-width="0.28" text-anchor="end" textLength="6.37" lengthAdjust="spacingAndGlyphs" >75</text>
<line x1="25.00" y1="302.70" x2="27.50" y2="302.70" stroke="#111" stroke-width="0.8" />
<text x="23.30" y="305.12" font-size="6.9" fill="#111" font-weight="bold" stroke="#111" stroke-width="0.28" text-anchor="end" textLength="9.56" lengthAdjust="spacingAndGlyphs" >100</text>
<text x="7.60" y="335.80" font-size="8.0" fill="#111" font-weight="bold" stroke="#111" stroke-width="0.32" text-anchor="middle" textLength="71.50" lengthAdjust="spacingAndGlyphs" transform="rotate(-90 7.60 335.80)" >Ki-67–pos. cells (%)</text>
<line x1="79.00" y1="325.00" x2="79.00" y2="339.50" stroke="#4a4ac0" stroke-width="1.0" />
<line x1="73.75" y1="325.00" x2="85.00" y2="325.00" stroke="#4a4ac0" stroke-width="1.0" />
<line x1="113.40" y1="358.75" x2="113.40" y2="365.50" stroke="#333" stroke-width="1.0" />
<line x1="108.50" y1="358.75" x2="118.50" y2="358.75" stroke="#333" stroke-width="1.0" />
<rect x="33.85" y="363.85" width="21.05" height="9.45" fill="#fff" stroke="#cc2a38" stroke-width="1.5" />
<rect x="68.60" y="340.10" width="20.80" height="33.20" fill="#fff" stroke="#2828c0" stroke-width="1.5" />
<rect x="103.10" y="366.10" width="20.55" height="7.20" fill="#fff" stroke="#111" stroke-width="1.5" />
<polyline points="83.75,313.60 83.75,311.75 105.75,311.75 105.75,313.60" fill="none" stroke="#111" stroke-width="0.8" />
<text x="95.00" y="312.00" font-size="8.6" fill="#111" font-weight="bold" stroke="#111" stroke-width="0.34" text-anchor="middle" >***</text>
<text x="40.80" y="383.10" font-size="6.3" fill="#c8203a" font-weight="bold" stroke="#c8203a" stroke-width="0.25" textLength="7.40" lengthAdjust="spacingAndGlyphs" >NB</text>
<text x="35.50" y="391.00" font-size="6.3" fill="#c8203a" font-weight="bold" stroke="#c8203a" stroke-width="0.25" textLength="18.20" lengthAdjust="spacingAndGlyphs" >Vehicle</text>
<text x="68.40" y="383.10" font-size="6.3" fill="#2b2a95" font-weight="bold" stroke="#2b2a95" stroke-width="0.25" textLength="7.40" lengthAdjust="spacingAndGlyphs" >NB</text>
<text x="77.20" y="383.10" font-size="6.3" fill="#2b2a95" font-weight="bold" stroke="#2b2a95" stroke-width="0.25" textLength="2.80" lengthAdjust="spacingAndGlyphs" >+</text>
<text x="63.60" y="391.00" font-size="6.3" fill="#2b2a95" font-weight="bold" stroke="#2b2a95" stroke-width="0.25" textLength="22.20" lengthAdjust="spacingAndGlyphs" >BM-MSC</text>
<text x="66.40" y="398.60" font-size="6.3" fill="#2b2a95" font-weight="bold" stroke="#2b2a95" stroke-width="0.25" textLength="18.20" lengthAdjust="spacingAndGlyphs" >Vehicle</text>
<text x="107.80" y="383.10" font-size="6.3" fill="#111" font-weight="bold" stroke="#111" stroke-width="0.25" textLength="7.40" lengthAdjust="spacingAndGlyphs" >NB</text>
<text x="116.70" y="383.10" font-size="6.3" fill="#111" font-weight="bold" stroke="#111" stroke-width="0.25" textLength="2.80" lengthAdjust="spacingAndGlyphs" >+</text>
<text x="102.80" y="391.00" font-size="6.3" fill="#111" font-weight="bold" stroke="#111" stroke-width="0.25" textLength="22.20" lengthAdjust="spacingAndGlyphs" >BM-MSC</text>
<text x="108.20" y="398.60" font-size="6.3" fill="#111" font-weight="bold" stroke="#111" stroke-width="0.25" textLength="11.80" lengthAdjust="spacingAndGlyphs" >R + T</text>
<text x="138.31" y="277.50" font-size="13.2" fill="#111" font-weight="bold" stroke="#111" stroke-width="0.53" textLength="7.92" lengthAdjust="spacingAndGlyphs" >E</text>
<line x1="170.00" y1="293.00" x2="170.00" y2="373.80" stroke="#111" stroke-width="1.0" />
<line x1="169.50" y1="373.30" x2="276.50" y2="373.30" stroke="#111" stroke-width="1.0" />
<line x1="167.50" y1="373.30" x2="170.00" y2="373.30" stroke="#111" stroke-width="0.8" />
<text x="166.00" y="375.89" font-size="7.4" fill="#111" font-weight="bold" stroke="#111" stroke-width="0.30" text-anchor="end" textLength="3.21" lengthAdjust="spacingAndGlyphs" >0</text>
<line x1="167.50" y1="357.80" x2="170.00" y2="357.80" stroke="#111" stroke-width="0.8" />
<text x="166.00" y="360.39" font-size="7.4" fill="#111" font-weight="bold" stroke="#111" stroke-width="0.30" text-anchor="end" textLength="8.02" lengthAdjust="spacingAndGlyphs" >0.5</text>
<line x1="167.50" y1="342.30" x2="170.00" y2="342.30" stroke="#111" stroke-width="0.8" />
<text x="166.00" y="344.89" font-size="7.4" fill="#111" font-weight="bold" stroke="#111" stroke-width="0.30" text-anchor="end" textLength="8.02" lengthAdjust="spacingAndGlyphs" >1.0</text>
<line x1="167.50" y1="326.80" x2="170.00" y2="326.80" stroke="#111" stroke-width="0.8" />
<text x="166.00" y="329.39" font-size="7.4" fill="#111" font-weight="bold" stroke="#111" stroke-width="0.30" text-anchor="end" textLength="8.02" lengthAdjust="spacingAndGlyphs" >1.5</text>
<line x1="167.50" y1="311.30" x2="170.00" y2="311.30" stroke="#111" stroke-width="0.8" />
<text x="166.00" y="313.89" font-size="7.4" fill="#111" font-weight="bold" stroke="#111" stroke-width="0.30" text-anchor="end" textLength="8.02" lengthAdjust="spacingAndGlyphs" >2.0</text>
<line x1="167.50" y1="295.80" x2="170.00" y2="295.80" stroke="#111" stroke-width="0.8" />
<text x="166.00" y="298.39" font-size="7.4" fill="#111" font-weight="bold" stroke="#111" stroke-width="0.30" text-anchor="end" textLength="8.02" lengthAdjust="spacingAndGlyphs" >2.5</text>
<text x="153.00" y="334.00" font-size="8.0" fill="#111" font-weight="bold" stroke="#111" stroke-width="0.32" text-anchor="middle" textLength="32.00" lengthAdjust="spacingAndGlyphs" transform="rotate(-90 153.00 334.00)" >MFI Index</text>
<line x1="180.45" y1="337.00" x2="180.45" y2="340.10" stroke="#333" stroke-width="0.9" />
<line x1="177.65" y1="337.00" x2="183.25" y2="337.00" stroke="#333" stroke-width="0.9" />
<rect x="173.80" y="340.60" width="13.30" height="32.70" fill="#fff" stroke="#111" stroke-width="1.0" />
<line x1="195.35" y1="331.00" x2="195.35" y2="333.70" stroke="#333" stroke-width="0.9" />
<line x1="192.55" y1="331.00" x2="198.15" y2="331.00" stroke="#333" stroke-width="0.9" />
<rect x="189.10" y="334.20" width="12.50" height="39.10" fill="url(#hatch)" stroke="#111" stroke-width="1.0" />
<line x1="215.95" y1="315.80" x2="215.95" y2="323.00" stroke="#333" stroke-width="0.9" />
<line x1="213.15" y1="315.80" x2="218.75" y2="315.80" stroke="#333" stroke-width="0.9" />
<rect x="209.80" y="323.50" width="12.30" height="49.80" fill="#fff" stroke="#111" stroke-width="1.0" />
<line x1="230.90" y1="300.50" x2="230.90" y2="308.40" stroke="#333" stroke-width="0.9" />
<line x1="228.10" y1="300.50" x2="233.70" y2="300.50" stroke="#333" stroke-width="0.9" />
<rect x="224.40" y="308.90" width="13.00" height="64.40" fill="url(#hatch)" stroke="#111" stroke-width="1.0" />
<line x1="251.65" y1="333.70" x2="251.65" y2="337.80" stroke="#333" stroke-width="0.9" />
<line x1="248.85" y1="333.70" x2="254.45" y2="333.70" stroke="#333" stroke-width="0.9" />
<rect x="245.50" y="338.30" width="12.30" height="35.00" fill="#fff" stroke="#111" stroke-width="1.0" />
<line x1="266.65" y1="321.00" x2="266.65" y2="325.50" stroke="#333" stroke-width="0.9" />
<line x1="263.85" y1="321.00" x2="269.45" y2="321.00" stroke="#333" stroke-width="0.9" />
<rect x="260.10" y="326.00" width="13.10" height="47.30" fill="url(#hatch)" stroke="#111" stroke-width="1.0" />
<rect x="173.20" y="295.20" width="7.60" height="2.90" fill="#fff" stroke="#111" stroke-width="0.7" />
<rect x="173.20" y="302.40" width="7.60" height="3.20" fill="url(#hatch)" stroke="#111" stroke-width="0.7" />
<text x="182.40" y="298.60" font-size="5.4" fill="#111" font-weight="bold" textLength="19.50" lengthAdjust="spacingAndGlyphs" >p-STAT3</text>
<text x="182.40" y="306.00" font-size="5.4" fill="#111" font-weight="bold" textLength="22.30" lengthAdjust="spacingAndGlyphs" >p-ERK1/2</text>
<polyline points="215.00,296.50 215.00,294.60 252.00,294.60 252.00,296.50" fill="none" stroke="#111" stroke-width="0.8" />
<text x="236.00" y="294.60" font-size="8.4" fill="#111" font-weight="bold" stroke="#111" stroke-width="0.34" text-anchor="middle" >**</text>
<polyline points="230.40,278.90 230.40,277.00 267.30,277.00 267.30,278.90" fill="none" stroke="#111" stroke-width="0.8" />
<text x="251.00" y="276.20" font-size="8.4" fill="#111" font-weight="bold" stroke="#111" stroke-width="0.34" text-anchor="middle" >**</text>
<text x="182.70" y="382.90" font-size="6.3" fill="#c8203a" font-weight="bold" stroke="#c8203a" stroke-width="0.25" textLength="8.00" lengthAdjust="spacingAndGlyphs" >NB</text>
<text x="176.80" y="390.50" font-size="6.3" fill="#c8203a" font-weight="bold" stroke="#c8203a" stroke-width="0.25" textLength="19.00" lengthAdjust="spacingAndGlyphs" >Vehicle</text>
<text x="212.30" y="382.90" font-size="6.3" fill="#2b2a95" font-weight="bold" stroke="#2b2a95" stroke-width="0.25" textLength="7.40" lengthAdjust="spacingAndGlyphs" >NB</text>
<text x="221.80" y="382.90" font-size="6.3" fill="#2b2a95" font-weight="bold" stroke="#2b2a95" stroke-width="0.25" textLength="2.80" lengthAdjust="spacingAndGlyphs" >+</text>
<text x="208.50" y="390.50" font-size="6.3" fill="#2b2a95" font-weight="bold" stroke="#2b2a95" stroke-width="0.25" textLength="21.80" lengthAdjust="spacingAndGlyphs" >BM-MSC</text>
<text x="210.20" y="398.30" font-size="6.3" fill="#2b2a95" font-weight="bold" stroke="#2b2a95" stroke-width="0.25" textLength="18.60" lengthAdjust="spacingAndGlyphs" >Vehicle</text>
<text x="252.50" y="382.90" font-size="6.3" fill="#111" font-weight="bold" stroke="#111" stroke-width="0.25" textLength="7.40" lengthAdjust="spacingAndGlyphs" >NB</text>
<text x="262.80" y="382.90" font-size="6.3" fill="#111" font-weight="bold" stroke="#111" stroke-width="0.25" textLength="2.80" lengthAdjust="spacingAndGlyphs" >+</text>
<text x="249.30" y="390.50" font-size="6.3" fill="#111" font-weight="bold" stroke="#111" stroke-width="0.25" textLength="21.80" lengthAdjust="spacingAndGlyphs" >BM-MSC</text>
<text x="252.90" y="398.30" font-size="6.3" fill="#111" font-weight="bold" stroke="#111" stroke-width="0.25" textLength="14.40" lengthAdjust="spacingAndGlyphs" >R + T</text>
<text x="313.51" y="129.20" font-size="13.2" fill="#111" font-weight="bold" stroke="#111" stroke-width="0.53" textLength="9.24" lengthAdjust="spacingAndGlyphs" >G</text>
<text x="331.00" y="137.80" font-size="7.2" fill="#111" font-weight="bold" stroke="#111" stroke-width="0.29" textLength="16.20" lengthAdjust="spacingAndGlyphs" >4 × 10</text>
<text x="347.40" y="134.80" font-size="4.4" fill="#111" font-weight="bold" stroke="#111" stroke-width="0.18" >4</text>
<text x="380.80" y="137.80" font-size="7.2" fill="#111" font-weight="bold" stroke="#111" stroke-width="0.29" textLength="16.20" lengthAdjust="spacingAndGlyphs" >4 × 10</text>
<text x="397.20" y="134.80" font-size="4.4" fill="#111" font-weight="bold" stroke="#111" stroke-width="0.18" >3</text>
<rect x="321.20" y="140.80" width="82.70" height="3.60" fill="url(#cbar)" stroke="none" stroke-width="1.0" />
<line x1="338.00" y1="138.30" x2="338.00" y2="141.00" stroke="#555" stroke-width="0.6" />
<line x1="388.80" y1="138.30" x2="388.80" y2="141.00" stroke="#555" stroke-width="0.6" />
<text x="442.70" y="137.80" font-size="7.2" fill="#111" font-weight="bold" stroke="#111" stroke-width="0.29" textLength="16.20" lengthAdjust="spacingAndGlyphs" >4 × 10</text>
<text x="459.10" y="134.80" font-size="4.4" fill="#111" font-weight="bold" stroke="#111" stroke-width="0.18" >4</text>
<text x="493.50" y="137.80" font-size="7.2" fill="#111" font-weight="bold" stroke="#111" stroke-width="0.29" textLength="16.20" lengthAdjust="spacingAndGlyphs" >4 × 10</text>
<text x="509.90" y="134.80" font-size="4.4" fill="#111" font-weight="bold" stroke="#111" stroke-width="0.18" >3</text>
<rect x="435.80" y="140.80" width="82.40" height="3.60" fill="url(#cbar)" stroke="none" stroke-width="1.0" />
<line x1="449.70" y1="138.30" x2="449.70" y2="141.00" stroke="#555" stroke-width="0.6" />
<line x1="501.50" y1="138.30" x2="501.50" y2="141.00" stroke="#555" stroke-width="0.6" />
<clipPath id="gc1"><rect x="322.9" y="146.9" width="77.90" height="32.30"/></clipPath>
<g clip-path="url(#gc1)">
<rect x="322.90" y="146.90" width="77.90" height="32.30" fill="#3a3a3a" stroke="none" stroke-width="1.0" />
<path d="M326.74,147.40 L329.26,147.40 C330.42,148.04 331.33,150.58 331.91,153.76 C333.06,158.21 333.75,161.39 333.75,166.48 L333.58,173.48 Q333.29,177.61 330.88,177.61 L325.12,177.61 Q322.71,177.61 322.42,173.48 L322.25,166.48 C322.25,161.39 322.94,158.21 324.09,153.76 C324.67,150.58 325.58,148.04 326.74,147.40 Z" fill="url(#mouse)"/>
<path d="M338.04,147.40 L340.56,147.40 C341.72,148.04 342.63,150.58 343.21,153.76 C344.36,158.21 345.05,161.39 345.05,166.48 L344.88,173.48 Q344.59,177.61 342.18,177.61 L336.43,177.61 Q334.01,177.61 333.72,173.48 L333.55,166.48 C333.55,161.39 334.24,158.21 335.39,153.76 C335.97,150.58 336.88,148.04 338.04,147.40 Z" fill="url(#mouse)"/>
<path d="M348.82,147.40 L351.57,147.40 C352.82,148.04 353.82,150.58 354.45,153.76 C355.70,158.21 356.45,161.39 356.45,166.48 L356.26,173.48 Q355.95,177.61 353.32,177.61 L347.07,177.61 Q344.45,177.61 344.14,173.48 L343.95,166.48 C343.95,161.39 344.70,158.21 345.95,153.76 C346.57,150.58 347.57,148.04 348.82,147.40 Z" fill="url(#mouse)"/>
<path d="M361.19,147.40 L363.61,147.40 C364.71,148.04 365.59,150.58 366.14,153.76 C367.24,158.21 367.90,161.39 367.90,166.48 L367.73,173.48 Q367.46,177.61 365.15,177.61 L359.65,177.61 Q357.34,177.61 357.06,173.48 L356.90,166.48 C356.90,161.39 357.56,158.21 358.66,153.76 C359.21,150.58 360.09,148.04 361.19,147.40 Z" fill="url(#mouse)"/>
<path d="M375.30,147.40 L378.70,147.40 C380.25,148.04 381.50,150.58 382.27,153.76 C383.82,158.21 384.75,161.39 384.75,166.48 L384.52,173.48 Q384.13,177.61 380.88,177.61 L373.12,177.61 Q369.87,177.61 369.48,173.48 L369.25,166.48 C369.25,161.39 370.18,158.21 371.73,153.76 C372.50,150.58 373.75,148.04 375.30,147.40 Z" fill="url(#mouse)"/>
<path d="M393.27,147.40 L396.13,147.40 C397.43,148.04 398.47,150.58 399.12,153.76 C400.42,158.21 401.20,161.39 401.20,166.48 L401.00,173.48 Q400.68,177.61 397.95,177.61 L391.45,177.61 Q388.72,177.61 388.39,173.48 L388.20,166.48 C388.20,161.39 388.98,158.21 390.28,153.76 C390.93,150.58 391.97,148.04 393.27,147.40 Z" fill="url(#mouse)"/>
<ellipse cx="328.00" cy="165.00" rx="5.60" ry="6.40" fill="#2030c8" />
<ellipse cx="328.00" cy="165.00" rx="4.60" ry="5.40" fill="#30c8e8" />
<ellipse cx="328.00" cy="165.00" rx="4.00" ry="4.80" fill="#ff1a10" />
<ellipse cx="338.60" cy="160.00" rx="5.50" ry="11.00" fill="#2030c8" />
<ellipse cx="338.20" cy="164.00" rx="6.40" ry="8.70" fill="#2030c8" />
<ellipse cx="338.20" cy="164.00" rx="5.85" ry="8.15" fill="#30c8e8" />
<ellipse cx="338.20" cy="164.00" rx="5.35" ry="7.65" fill="#40d040" />
<ellipse cx="338.20" cy="164.00" rx="4.90" ry="7.20" fill="#e8e030" />
<ellipse cx="338.20" cy="164.00" rx="4.50" ry="6.80" fill="#ff1a10" />
<ellipse cx="350.00" cy="162.00" rx="6.50" ry="10.50" fill="#2030c8" />
<ellipse cx="349.90" cy="166.20" rx="7.30" ry="9.30" fill="#2030c8" />
<ellipse cx="349.90" cy="166.20" rx="6.75" ry="8.75" fill="#30c8e8" />
<ellipse cx="349.90" cy="166.20" rx="6.25" ry="8.25" fill="#40d040" />
<ellipse cx="349.90" cy="166.20" rx="5.80" ry="7.80" fill="#e8e030" />
<ellipse cx="349.90" cy="166.20" rx="5.40" ry="7.40" fill="#ff1a10" />
<ellipse cx="360.00" cy="164.70" rx="3.60" ry="3.60" fill="#2030c8" />
<ellipse cx="360.00" cy="164.70" rx="2.20" ry="2.20" fill="#c8c0f0" />
<ellipse cx="360.00" cy="164.70" rx="1.20" ry="1.20" fill="#ff1a10" />
<ellipse cx="377.30" cy="163.00" rx="8.50" ry="12.00" fill="#2030c8" />
<ellipse cx="377.00" cy="152.50" rx="3.50" ry="2.50" fill="#30c8e8" />
<ellipse cx="377.70" cy="166.60" rx="8.50" ry="10.50" fill="#2030c8" />
<ellipse cx="377.70" cy="166.60" rx="7.95" ry="9.95" fill="#30c8e8" />
<ellipse cx="377.70" cy="166.60" rx="7.45" ry="9.45" fill="#40d040" />
<ellipse cx="377.70" cy="166.60" rx="7.00" ry="9.00" fill="#e8e030" />
<ellipse cx="377.70" cy="166.60" rx="6.60" ry="8.60" fill="#ff1a10" />
<ellipse cx="394.70" cy="166.00" rx="5.80" ry="9.00" fill="#2030c8" />
<ellipse cx="394.70" cy="168.00" rx="5.30" ry="6.50" fill="#30c8e8" />
<ellipse cx="394.90" cy="168.30" rx="4.90" ry="5.80" fill="#40d040" />
<ellipse cx="392.00" cy="170.70" rx="3.00" ry="3.00" fill="#ff1a10" />
</g>
<clipPath id="gc2"><rect x="322.9" y="185.9" width="77.90" height="32.00"/></clipPath>
<g clip-path="url(#gc2)">
<rect x="322.90" y="185.90" width="77.90" height="32.00" fill="#3a3a3a" stroke="none" stroke-width="1.0" />
<path d="M326.98,186.40 L329.62,186.40 C330.82,187.03 331.78,189.55 332.38,192.70 C333.58,197.11 334.30,200.26 334.30,205.30 L334.12,212.23 Q333.82,216.32 331.30,216.32 L325.30,216.32 Q322.78,216.32 322.48,212.23 L322.30,205.30 C322.30,200.26 323.02,197.11 324.22,192.70 C324.82,189.55 325.78,187.03 326.98,186.40 Z" fill="url(#mouse)"/>
<path d="M340.59,186.40 L343.01,186.40 C344.11,187.03 344.99,189.55 345.54,192.70 C346.64,197.11 347.30,200.26 347.30,205.30 L347.13,212.23 Q346.86,216.32 344.55,216.32 L339.05,216.32 Q336.74,216.32 336.47,212.23 L336.30,205.30 C336.30,200.26 336.96,197.11 338.06,192.70 C338.61,189.55 339.49,187.03 340.59,186.40 Z" fill="url(#mouse)"/>
<path d="M355.73,186.40 L358.48,186.40 C359.73,187.03 360.73,189.55 361.35,192.70 C362.60,197.11 363.35,200.26 363.35,205.30 L363.16,212.23 Q362.85,216.32 360.23,216.32 L353.98,216.32 Q351.35,216.32 351.04,212.23 L350.85,205.30 C350.85,200.26 351.60,197.11 352.85,192.70 C353.48,189.55 354.48,187.03 355.73,186.40 Z" fill="url(#mouse)"/>
<path d="M371.65,186.40 L374.95,186.40 C376.45,187.03 377.65,189.55 378.40,192.70 C379.90,197.11 380.80,200.26 380.80,205.30 L380.57,212.23 Q380.20,216.32 377.05,216.32 L369.55,216.32 Q366.40,216.32 366.03,212.23 L365.80,205.30 C365.80,200.26 366.70,197.11 368.20,192.70 C368.95,189.55 370.15,187.03 371.65,186.40 Z" fill="url(#mouse)"/>
<path d="M394.63,186.40 L397.16,186.40 C398.31,187.03 399.23,189.55 399.81,192.70 C400.96,197.11 401.65,200.26 401.65,205.30 L401.48,212.23 Q401.19,216.32 398.77,216.32 L393.02,216.32 Q390.61,216.32 390.32,212.23 L390.15,205.30 C390.15,200.26 390.84,197.11 391.99,192.70 C392.56,189.55 393.48,187.03 394.63,186.40 Z" fill="url(#mouse)"/>
<ellipse cx="326.70" cy="209.30" rx="5.50" ry="5.30" fill="#2030c8" />
<ellipse cx="326.70" cy="209.30" rx="4.50" ry="4.30" fill="#30c8e8" />
<ellipse cx="326.70" cy="209.30" rx="3.90" ry="3.70" fill="#ff1a10" />
<ellipse cx="340.20" cy="199.00" rx="2.60" ry="2.60" fill="#2030c8" />
<ellipse cx="340.80" cy="199.00" rx="1.60" ry="1.60" fill="#e0e0f0" />
<ellipse cx="355.00" cy="204.50" rx="5.60" ry="7.20" fill="#2030c8" />
<ellipse cx="355.00" cy="204.50" rx="5.05" ry="6.65" fill="#30c8e8" />
<ellipse cx="355.00" cy="204.50" rx="4.55" ry="6.15" fill="#40d040" />
<ellipse cx="355.00" cy="204.50" rx="4.10" ry="5.70" fill="#e8e030" />
<ellipse cx="355.00" cy="204.50" rx="3.70" ry="5.30" fill="#ff1a10" />
<ellipse cx="373.70" cy="201.00" rx="7.60" ry="10.50" fill="#2030c8" />
<ellipse cx="373.70" cy="197.00" rx="4.50" ry="3.50" fill="#30c8e8" />
<ellipse cx="373.70" cy="203.60" rx="7.90" ry="9.60" fill="#2030c8" />
<ellipse cx="373.70" cy="203.60" rx="7.35" ry="9.05" fill="#30c8e8" />
<ellipse cx="373.70" cy="203.60" rx="6.85" ry="8.55" fill="#40d040" />
<ellipse cx="373.70" cy="203.60" rx="6.40" ry="8.10" fill="#e8e030" />
<ellipse cx="373.70" cy="203.60" rx="6.00" ry="7.70" fill="#ff1a10" />
<ellipse cx="396.00" cy="200.00" rx="5.00" ry="11.00" fill="#2030c8" />
<ellipse cx="396.00" cy="202.00" rx="5.60" ry="9.30" fill="#2030c8" />
<ellipse cx="396.00" cy="202.00" rx="4.60" ry="8.30" fill="#30c8e8" />
<ellipse cx="396.00" cy="202.00" rx="4.00" ry="7.70" fill="#ff1a10" />
</g>
<clipPath id="gc3"><rect x="440.0" y="146.9" width="76.80" height="31.80"/></clipPath>
<g clip-path="url(#gc3)">
<rect x="440.00" y="146.90" width="76.80" height="31.80" fill="#3a3a3a" stroke="none" stroke-width="1.0" />
<path d="M444.28,147.40 L446.92,147.40 C448.12,148.03 449.08,150.53 449.68,153.66 C450.88,158.04 451.60,161.17 451.60,166.18 L451.42,173.07 Q451.12,177.13 448.60,177.13 L442.60,177.13 Q440.08,177.13 439.78,173.07 L439.60,166.18 C439.60,161.17 440.32,158.04 441.52,153.66 C442.12,150.53 443.08,148.03 444.28,147.40 Z" fill="url(#mouse)"/>
<path d="M456.48,147.40 L459.12,147.40 C460.32,148.03 461.28,150.53 461.88,153.66 C463.08,158.04 463.80,161.17 463.80,166.18 L463.62,173.07 Q463.32,177.13 460.80,177.13 L454.80,177.13 Q452.28,177.13 451.98,173.07 L451.80,166.18 C451.80,161.17 452.52,158.04 453.72,153.66 C454.32,150.53 455.28,148.03 456.48,147.40 Z" fill="url(#mouse)"/>
<path d="M468.68,147.40 L471.32,147.40 C472.52,148.03 473.48,150.53 474.08,153.66 C475.28,158.04 476.00,161.17 476.00,166.18 L475.82,173.07 Q475.52,177.13 473.00,177.13 L467.00,177.13 Q464.48,177.13 464.18,173.07 L464.00,166.18 C464.00,161.17 464.72,158.04 465.92,153.66 C466.52,150.53 467.48,148.03 468.68,147.40 Z" fill="url(#mouse)"/>
<path d="M479.35,147.40 L481.65,147.40 C482.70,148.03 483.55,150.53 484.07,153.66 C485.12,158.04 485.75,161.17 485.75,166.18 L485.59,173.07 Q485.33,177.13 483.12,177.13 L477.88,177.13 Q475.67,177.13 475.41,173.07 L475.25,166.18 C475.25,161.17 475.88,158.04 476.93,153.66 C477.45,150.53 478.30,148.03 479.35,147.40 Z" fill="url(#mouse)"/>
<path d="M488.65,147.40 L490.95,147.40 C492.00,148.03 492.85,150.53 493.37,153.66 C494.42,158.04 495.05,161.17 495.05,166.18 L494.89,173.07 Q494.63,177.13 492.43,177.13 L487.18,177.13 Q484.97,177.13 484.71,173.07 L484.55,166.18 C484.55,161.17 485.18,158.04 486.23,153.66 C486.75,150.53 487.60,148.03 488.65,147.40 Z" fill="url(#mouse)"/>
<path d="M499.15,147.40 L501.45,147.40 C502.50,148.03 503.35,150.53 503.87,153.66 C504.92,158.04 505.55,161.17 505.55,166.18 L505.39,173.07 Q505.13,177.13 502.93,177.13 L497.68,177.13 Q495.47,177.13 495.21,173.07 L495.05,166.18 C495.05,161.17 495.68,158.04 496.73,153.66 C497.25,150.53 498.10,148.03 499.15,147.40 Z" fill="url(#mouse)"/>
<path d="M509.94,147.40 L512.47,147.40 C513.62,148.03 514.53,150.53 515.11,153.66 C516.26,158.04 516.95,161.17 516.95,166.18 L516.78,173.07 Q516.49,177.13 514.08,177.13 L508.32,177.13 Q505.91,177.13 505.62,173.07 L505.45,166.18 C505.45,161.17 506.14,158.04 507.29,153.66 C507.87,150.53 508.78,148.03 509.94,147.40 Z" fill="url(#mouse)"/>
<ellipse cx="445.50" cy="166.00" rx="5.50" ry="9.50" fill="#2030c8" />
<ellipse cx="444.50" cy="168.20" rx="5.60" ry="7.50" fill="#2030c8" />
<ellipse cx="444.50" cy="168.20" rx="5.05" ry="6.95" fill="#30c8e8" />
<ellipse cx="444.50" cy="168.20" rx="4.55" ry="6.45" fill="#40d040" />
<ellipse cx="444.50" cy="168.20" rx="4.10" ry="6.00" fill="#e8e030" />
<ellipse cx="444.50" cy="168.20" rx="3.70" ry="5.60" fill="#ff1a10" />
<ellipse cx="457.80" cy="159.00" rx="5.50" ry="10.50" fill="#2030c8" />
<ellipse cx="457.80" cy="152.00" rx="3.00" ry="3.00" fill="#30c8e8" />
<ellipse cx="457.80" cy="163.80" rx="5.90" ry="7.90" fill="#2030c8" />
<ellipse cx="457.80" cy="163.80" rx="5.35" ry="7.35" fill="#30c8e8" />
<ellipse cx="457.80" cy="163.80" rx="4.85" ry="6.85" fill="#40d040" />
<ellipse cx="457.80" cy="163.80" rx="4.40" ry="6.40" fill="#e8e030" />
<ellipse cx="457.80" cy="163.80" rx="4.00" ry="6.00" fill="#ff1a10" />
<ellipse cx="469.50" cy="164.00" rx="5.80" ry="8.50" fill="#2030c8" />
<ellipse cx="468.90" cy="165.40" rx="5.50" ry="8.00" fill="#2030c8" />
<ellipse cx="468.90" cy="165.40" rx="4.95" ry="7.45" fill="#30c8e8" />
<ellipse cx="468.90" cy="165.40" rx="4.45" ry="6.95" fill="#40d040" />
<ellipse cx="468.90" cy="165.40" rx="4.00" ry="6.50" fill="#e8e030" />
<ellipse cx="468.90" cy="165.40" rx="3.60" ry="6.10" fill="#ff1a10" />
<ellipse cx="480.00" cy="160.20" rx="4.40" ry="4.40" fill="#2030c8" />
<ellipse cx="480.00" cy="160.20" rx="3.00" ry="3.00" fill="#c8c0f0" />
<ellipse cx="480.00" cy="160.20" rx="2.00" ry="2.00" fill="#ff1a10" />
<ellipse cx="488.80" cy="165.80" rx="4.40" ry="4.40" fill="#2030c8" />
<ellipse cx="488.80" cy="165.80" rx="3.00" ry="3.00" fill="#c8c0f0" />
<ellipse cx="488.80" cy="165.80" rx="2.00" ry="2.00" fill="#ff1a10" />
<ellipse cx="499.80" cy="167.40" rx="4.70" ry="4.70" fill="#2030c8" />
<ellipse cx="499.80" cy="167.40" rx="3.30" ry="3.30" fill="#c8c0f0" />
<ellipse cx="499.80" cy="167.40" rx="2.30" ry="2.30" fill="#ff1a10" />
<ellipse cx="509.50" cy="167.40" rx="4.70" ry="4.70" fill="#2030c8" />
<ellipse cx="509.50" cy="167.40" rx="3.30" ry="3.30" fill="#c8c0f0" />
<ellipse cx="509.50" cy="167.40" rx="2.30" ry="2.30" fill="#ff1a10" />
</g>
<clipPath id="gc4"><rect x="440.0" y="186.4" width="76.80" height="31.80"/></clipPath>
<g clip-path="url(#gc4)">
<rect x="440.00" y="186.40" width="76.80" height="31.80" fill="#3a3a3a" stroke="none" stroke-width="1.0" />
<path d="M444.24,186.90 L446.76,186.90 C447.92,187.53 448.83,190.03 449.41,193.16 C450.56,197.54 451.25,200.67 451.25,205.68 L451.08,212.57 Q450.79,216.63 448.38,216.63 L442.62,216.63 Q440.21,216.63 439.92,212.57 L439.75,205.68 C439.75,200.67 440.44,197.54 441.59,193.16 C442.17,190.03 443.08,187.53 444.24,186.90 Z" fill="url(#mouse)"/>
<path d="M455.18,186.90 L457.82,186.90 C459.02,187.53 459.98,190.03 460.58,193.16 C461.78,197.54 462.50,200.67 462.50,205.68 L462.32,212.57 Q462.02,216.63 459.50,216.63 L453.50,216.63 Q450.98,216.63 450.68,212.57 L450.50,205.68 C450.50,200.67 451.22,197.54 452.42,193.16 C453.02,190.03 453.98,187.53 455.18,186.90 Z" fill="url(#mouse)"/>
<path d="M466.24,186.90 L468.76,186.90 C469.92,187.53 470.83,190.03 471.41,193.16 C472.56,197.54 473.25,200.67 473.25,205.68 L473.08,212.57 Q472.79,216.63 470.38,216.63 L464.62,216.63 Q462.21,216.63 461.92,212.57 L461.75,205.68 C461.75,200.67 462.44,197.54 463.59,193.16 C464.17,190.03 465.08,187.53 466.24,186.90 Z" fill="url(#mouse)"/>
<path d="M479.68,186.90 L482.32,186.90 C483.52,187.53 484.48,190.03 485.08,193.16 C486.28,197.54 487.00,200.67 487.00,205.68 L486.82,212.57 Q486.52,216.63 484.00,216.63 L478.00,216.63 Q475.48,216.63 475.18,212.57 L475.00,205.68 C475.00,200.67 475.72,197.54 476.92,193.16 C477.52,190.03 478.48,187.53 479.68,186.90 Z" fill="url(#mouse)"/>
<path d="M491.18,186.90 L493.82,186.90 C495.02,187.53 495.98,190.03 496.58,193.16 C497.78,197.54 498.50,200.67 498.50,205.68 L498.32,212.57 Q498.02,216.63 495.50,216.63 L489.50,216.63 Q486.98,216.63 486.68,212.57 L486.50,205.68 C486.50,200.67 487.22,197.54 488.42,193.16 C489.02,190.03 489.98,187.53 491.18,186.90 Z" fill="url(#mouse)"/>
<path d="M501.35,186.90 L503.65,186.90 C504.70,187.53 505.55,190.03 506.07,193.16 C507.12,197.54 507.75,200.67 507.75,205.68 L507.59,212.57 Q507.33,216.63 505.12,216.63 L499.88,216.63 Q497.67,216.63 497.41,212.57 L497.25,205.68 C497.25,200.67 497.88,197.54 498.93,193.16 C499.45,190.03 500.30,187.53 501.35,186.90 Z" fill="url(#mouse)"/>
<path d="M510.65,186.90 L512.96,186.90 C514.00,187.53 514.85,190.03 515.37,193.16 C516.42,197.54 517.05,200.67 517.05,205.68 L516.89,212.57 Q516.63,216.63 514.42,216.63 L509.18,216.63 Q506.97,216.63 506.71,212.57 L506.55,205.68 C506.55,200.67 507.18,197.54 508.23,193.16 C508.75,190.03 509.60,187.53 510.65,186.90 Z" fill="url(#mouse)"/>
<ellipse cx="444.90" cy="209.80" rx="4.80" ry="5.60" fill="#2030c8" />
<ellipse cx="444.90" cy="209.80" rx="3.80" ry="4.60" fill="#30c8e8" />
<ellipse cx="444.90" cy="209.80" rx="3.20" ry="4.00" fill="#ff1a10" />
<ellipse cx="456.20" cy="202.00" rx="5.50" ry="11.50" fill="#2030c8" />
<ellipse cx="456.20" cy="207.50" rx="5.90" ry="8.40" fill="#2030c8" />
<ellipse cx="456.20" cy="207.50" rx="5.35" ry="7.85" fill="#30c8e8" />
<ellipse cx="456.20" cy="207.50" rx="4.85" ry="7.35" fill="#40d040" />
<ellipse cx="456.20" cy="207.50" rx="4.40" ry="6.90" fill="#e8e030" />
<ellipse cx="456.20" cy="207.50" rx="4.00" ry="6.50" fill="#ff1a10" />
<ellipse cx="455.00" cy="209.00" rx="2.00" ry="2.50" fill="#e8e030" />
<ellipse cx="467.00" cy="208.70" rx="4.80" ry="5.20" fill="#2030c8" />
<ellipse cx="467.00" cy="208.70" rx="3.80" ry="4.20" fill="#30c8e8" />
<ellipse cx="467.00" cy="208.70" rx="3.20" ry="3.60" fill="#ff1a10" />
<ellipse cx="481.60" cy="205.00" rx="5.20" ry="7.30" fill="#2030c8" />
<ellipse cx="481.60" cy="205.00" rx="4.20" ry="6.30" fill="#30c8e8" />
<ellipse cx="481.60" cy="205.00" rx="3.60" ry="5.70" fill="#ff1a10" />
<ellipse cx="492.50" cy="201.00" rx="5.50" ry="11.50" fill="#2030c8" />
<ellipse cx="492.50" cy="197.00" rx="3.50" ry="5.00" fill="#30c8e8" />
<ellipse cx="492.50" cy="205.80" rx="5.90" ry="8.40" fill="#2030c8" />
<ellipse cx="492.50" cy="205.80" rx="5.35" ry="7.85" fill="#30c8e8" />
<ellipse cx="492.50" cy="205.80" rx="4.85" ry="7.35" fill="#40d040" />
<ellipse cx="492.50" cy="205.80" rx="4.40" ry="6.90" fill="#e8e030" />
<ellipse cx="492.50" cy="205.80" rx="4.00" ry="6.50" fill="#ff1a10" />
<ellipse cx="501.80" cy="205.50" rx="4.50" ry="6.80" fill="#2030c8" />
<ellipse cx="501.80" cy="205.50" rx="3.50" ry="5.80" fill="#30c8e8" />
<ellipse cx="501.80" cy="205.50" rx="2.90" ry="5.20" fill="#ff1a10" />
<ellipse cx="511.50" cy="207.40" rx="5.20" ry="7.20" fill="#2030c8" />
<ellipse cx="511.50" cy="207.40" rx="4.20" ry="6.20" fill="#30c8e8" />
<ellipse cx="511.50" cy="207.40" rx="3.60" ry="5.60" fill="#ff1a10" />
</g>
<clipPath id="gc5"><rect x="440.0" y="225.2" width="77.60" height="32.00"/></clipPath>
<g clip-path="url(#gc5)">
<rect x="440.00" y="225.20" width="77.60" height="32.00" fill="#3a3a3a" stroke="none" stroke-width="1.0" />
<path d="M443.54,225.70 L446.06,225.70 C447.22,226.33 448.13,228.85 448.71,232.00 C449.86,236.41 450.55,239.56 450.55,244.60 L450.38,251.53 Q450.09,255.62 447.68,255.62 L441.93,255.62 Q439.51,255.62 439.22,251.53 L439.05,244.60 C439.05,239.56 439.74,236.41 440.89,232.00 C441.47,228.85 442.38,226.33 443.54,225.70 Z" fill="url(#mouse)"/>
<path d="M454.94,225.70 L457.46,225.70 C458.62,226.33 459.53,228.85 460.11,232.00 C461.26,236.41 461.95,239.56 461.95,244.60 L461.78,251.53 Q461.49,255.62 459.07,255.62 L453.32,255.62 Q450.91,255.62 450.62,251.53 L450.45,244.60 C450.45,239.56 451.14,236.41 452.29,232.00 C452.87,228.85 453.78,226.33 454.94,225.70 Z" fill="url(#mouse)"/>
<path d="M466.38,225.70 L469.02,225.70 C470.22,226.33 471.18,228.85 471.78,232.00 C472.98,236.41 473.70,239.56 473.70,244.60 L473.52,251.53 Q473.22,255.62 470.70,255.62 L464.70,255.62 Q462.18,255.62 461.88,251.53 L461.70,244.60 C461.70,239.56 462.42,236.41 463.62,232.00 C464.22,228.85 465.18,226.33 466.38,225.70 Z" fill="url(#mouse)"/>
<path d="M478.79,225.70 L481.21,225.70 C482.31,226.33 483.19,228.85 483.74,232.00 C484.84,236.41 485.50,239.56 485.50,244.60 L485.33,251.53 Q485.06,255.62 482.75,255.62 L477.25,255.62 Q474.94,255.62 474.67,251.53 L474.50,244.60 C474.50,239.56 475.16,236.41 476.26,232.00 C476.81,228.85 477.69,226.33 478.79,225.70 Z" fill="url(#mouse)"/>
<path d="M489.39,225.70 L491.81,225.70 C492.91,226.33 493.79,228.85 494.34,232.00 C495.44,236.41 496.10,239.56 496.10,244.60 L495.94,251.53 Q495.66,255.62 493.35,255.62 L487.85,255.62 Q485.54,255.62 485.27,251.53 L485.10,244.60 C485.10,239.56 485.76,236.41 486.86,232.00 C487.41,228.85 488.29,226.33 489.39,225.70 Z" fill="url(#mouse)"/>
<path d="M499.94,225.70 L502.46,225.70 C503.62,226.33 504.53,228.85 505.11,232.00 C506.26,236.41 506.95,239.56 506.95,244.60 L506.78,251.53 Q506.49,255.62 504.07,255.62 L498.32,255.62 Q495.91,255.62 495.62,251.53 L495.45,244.60 C495.45,239.56 496.14,236.41 497.29,232.00 C497.87,228.85 498.78,226.33 499.94,225.70 Z" fill="url(#mouse)"/>
<path d="M509.79,225.70 L512.21,225.70 C513.31,226.33 514.19,228.85 514.74,232.00 C515.84,236.41 516.50,239.56 516.50,244.60 L516.34,251.53 Q516.06,255.62 513.75,255.62 L508.25,255.62 Q505.94,255.62 505.67,251.53 L505.50,244.60 C505.50,239.56 506.16,236.41 507.26,232.00 C507.81,228.85 508.69,226.33 509.79,225.70 Z" fill="url(#mouse)"/>
<ellipse cx="445.50" cy="249.00" rx="5.50" ry="10.50" fill="#2030c8" />
<ellipse cx="444.00" cy="250.00" rx="5.20" ry="8.90" fill="#2030c8" />
<ellipse cx="444.00" cy="250.00" rx="4.65" ry="8.35" fill="#30c8e8" />
<ellipse cx="444.00" cy="250.00" rx="4.15" ry="7.85" fill="#40d040" />
<ellipse cx="444.00" cy="250.00" rx="3.70" ry="7.40" fill="#e8e030" />
<ellipse cx="444.00" cy="250.00" rx="3.30" ry="7.00" fill="#ff1a10" />
<ellipse cx="456.20" cy="247.00" rx="5.40" ry="5.40" fill="#2030c8" />
<ellipse cx="456.20" cy="247.00" rx="4.00" ry="4.00" fill="#c8c0f0" />
<ellipse cx="456.20" cy="247.00" rx="3.00" ry="3.00" fill="#ff1a10" />
<ellipse cx="467.50" cy="248.70" rx="6.40" ry="6.90" fill="#2030c8" />
<ellipse cx="467.50" cy="248.70" rx="5.00" ry="5.50" fill="#c8c0f0" />
<ellipse cx="467.50" cy="248.70" rx="4.00" ry="4.50" fill="#ff1a10" />
<ellipse cx="479.60" cy="247.00" rx="4.80" ry="4.80" fill="#2030c8" />
<ellipse cx="479.60" cy="247.00" rx="3.40" ry="3.40" fill="#c8c0f0" />
<ellipse cx="479.60" cy="247.00" rx="2.40" ry="2.40" fill="#ff1a10" />
<ellipse cx="490.10" cy="245.40" rx="5.20" ry="5.20" fill="#2030c8" />
<ellipse cx="490.10" cy="245.40" rx="3.80" ry="3.80" fill="#c8c0f0" />
<ellipse cx="490.10" cy="245.40" rx="2.80" ry="2.80" fill="#ff1a10" />
<ellipse cx="499.80" cy="249.50" rx="5.40" ry="6.40" fill="#2030c8" />
<ellipse cx="499.80" cy="249.50" rx="4.85" ry="5.85" fill="#30c8e8" />
<ellipse cx="499.80" cy="249.50" rx="4.35" ry="5.35" fill="#40d040" />
<ellipse cx="499.80" cy="249.50" rx="3.90" ry="4.90" fill="#e8e030" />
<ellipse cx="499.80" cy="249.50" rx="3.50" ry="4.50" fill="#ff1a10" />
<ellipse cx="510.60" cy="247.80" rx="3.90" ry="3.90" fill="#2030c8" />
<ellipse cx="510.60" cy="247.80" rx="2.50" ry="2.50" fill="#c8c0f0" />
<ellipse cx="510.60" cy="247.80" rx="1.50" ry="1.50" fill="#ff1a10" />
</g>
<text x="307.70" y="154.60" font-size="7.0" fill="#c8203a" font-weight="bold" stroke="#c8203a" stroke-width="0.28" textLength="8.40" lengthAdjust="spacingAndGlyphs" >NB</text>
<text x="294.60" y="163.80" font-size="7.0" fill="#c8203a" font-weight="bold" stroke="#c8203a" stroke-width="0.28" textLength="21.60" lengthAdjust="spacingAndGlyphs" >Vehicle</text>
<text x="305.90" y="193.80" font-size="7.0" fill="#2fa6d6" font-weight="bold" stroke="#2fa6d6" stroke-width="0.28" textLength="8.50" lengthAdjust="spacingAndGlyphs" >NB</text>
<text x="318.30" y="193.80" font-size="7.0" fill="#2fa6d6" font-weight="bold" stroke="#2fa6d6" stroke-width="0.28" textLength="3.00" lengthAdjust="spacingAndGlyphs" >+</text>
<text x="293.20" y="202.50" font-size="7.0" fill="#2fa6d6" font-weight="bold" stroke="#2fa6d6" stroke-width="0.28" textLength="27.90" lengthAdjust="spacingAndGlyphs" >CAF-MSC</text>
<text x="300.30" y="211.40" font-size="7.0" fill="#2fa6d6" font-weight="bold" stroke="#2fa6d6" stroke-width="0.28" textLength="20.80" lengthAdjust="spacingAndGlyphs" >Vehicle</text>
<text x="418.70" y="155.20" font-size="7.0" fill="#22a050" font-weight="bold" stroke="#22a050" stroke-width="0.28" textLength="8.20" lengthAdjust="spacingAndGlyphs" >NB</text>
<text x="431.10" y="155.20" font-size="7.0" fill="#22a050" font-weight="bold" stroke="#22a050" stroke-width="0.28" textLength="3.00" lengthAdjust="spacingAndGlyphs" >+</text>
<text x="406.10" y="164.50" font-size="7.0" fill="#22a050" font-weight="bold" stroke="#22a050" stroke-width="0.28" textLength="27.90" lengthAdjust="spacingAndGlyphs" >CAF-MSC</text>
<text x="425.00" y="173.60" font-size="7.0" fill="#22a050" font-weight="bold" stroke="#22a050" stroke-width="0.28" textLength="3.00" lengthAdjust="spacingAndGlyphs" >+</text>
<text x="430.00" y="173.60" font-size="7.0" fill="#22a050" font-weight="bold" stroke="#22a050" stroke-width="0.28" textLength="4.30" lengthAdjust="spacingAndGlyphs" >R</text>
<text x="418.70" y="194.10" font-size="7.0" fill="#e07b2e" font-weight="bold" stroke="#e07b2e" stroke-width="0.28" textLength="8.20" lengthAdjust="spacingAndGlyphs" >NB</text>
<text x="431.10" y="194.10" font-size="7.0" fill="#e07b2e" font-weight="bold" stroke="#e07b2e" stroke-width="0.28" textLength="3.00" lengthAdjust="spacingAndGlyphs" >+</text>
<text x="406.10" y="203.70" font-size="7.0" fill="#e07b2e" font-weight="bold" stroke="#e07b2e" stroke-width="0.28" textLength="27.90" lengthAdjust="spacingAndGlyphs" >CAF-MSC</text>
<text x="425.40" y="212.80" font-size="7.0" fill="#e07b2e" font-weight="bold" stroke="#e07b2e" stroke-width="0.28" textLength="3.00" lengthAdjust="spacingAndGlyphs" >+</text>
<text x="430.80" y="212.80" font-size="7.0" fill="#e07b2e" font-weight="bold" stroke="#e07b2e" stroke-width="0.28" textLength="3.50" lengthAdjust="spacingAndGlyphs" >T</text>
<text x="418.70" y="233.10" font-size="7.0" fill="#111" font-weight="bold" stroke="#111" stroke-width="0.28" textLength="8.20" lengthAdjust="spacingAndGlyphs" >NB</text>
<text x="431.10" y="233.10" font-size="7.0" fill="#111" font-weight="bold" stroke="#111" stroke-width="0.28" textLength="3.00" lengthAdjust="spacingAndGlyphs" >+</text>
<text x="406.10" y="242.40" font-size="7.0" fill="#111" font-weight="bold" stroke="#111" stroke-width="0.28" textLength="27.90" lengthAdjust="spacingAndGlyphs" >CAF-MSC</text>
<text x="414.10" y="251.10" font-size="7.0" fill="#111" font-weight="bold" stroke="#111" stroke-width="0.28" textLength="3.00" lengthAdjust="spacingAndGlyphs" >+</text>
<text x="419.10" y="251.10" font-size="7.0" fill="#111" font-weight="bold" stroke="#111" stroke-width="0.28" textLength="4.30" lengthAdjust="spacingAndGlyphs" >R</text>
<text x="425.70" y="251.10" font-size="7.0" fill="#111" font-weight="bold" stroke="#111" stroke-width="0.28" textLength="3.00" lengthAdjust="spacingAndGlyphs" >+</text>
<text x="430.40" y="251.10" font-size="7.0" fill="#111" font-weight="bold" stroke="#111" stroke-width="0.28" textLength="3.90" lengthAdjust="spacingAndGlyphs" >T</text>
<text x="313.61" y="275.90" font-size="13.2" fill="#111" font-weight="bold" stroke="#111" stroke-width="0.53" textLength="8.58" lengthAdjust="spacingAndGlyphs" >H</text>
<line x1="343.80" y1="285.20" x2="343.80" y2="373.30" stroke="#111" stroke-width="1.0" />
<line x1="343.30" y1="372.80" x2="520.00" y2="372.80" stroke="#111" stroke-width="1.0" />
<line x1="341.30" y1="372.80" x2="343.80" y2="372.80" stroke="#111" stroke-width="0.8" />
<text x="340.20" y="375.36" font-size="7.3" fill="#111" font-weight="bold" stroke="#111" stroke-width="0.29" text-anchor="end" textLength="3.45" lengthAdjust="spacingAndGlyphs" >0</text>
<line x1="341.30" y1="351.90" x2="343.80" y2="351.90" stroke="#111" stroke-width="0.8" />
<text x="340.20" y="354.46" font-size="7.3" fill="#111" font-weight="bold" stroke="#111" stroke-width="0.29" text-anchor="end" textLength="10.35" lengthAdjust="spacingAndGlyphs" >200</text>
<line x1="341.30" y1="331.00" x2="343.80" y2="331.00" stroke="#111" stroke-width="0.8" />
<text x="340.20" y="333.56" font-size="7.3" fill="#111" font-weight="bold" stroke="#111" stroke-width="0.29" text-anchor="end" textLength="10.35" lengthAdjust="spacingAndGlyphs" >400</text>
<line x1="341.30" y1="310.10" x2="343.80" y2="310.10" stroke="#111" stroke-width="0.8" />
<text x="340.20" y="312.66" font-size="7.3" fill="#111" font-weight="bold" stroke="#111" stroke-width="0.29" text-anchor="end" textLength="10.35" lengthAdjust="spacingAndGlyphs" >600</text>
<line x1="341.30" y1="289.20" x2="343.80" y2="289.20" stroke="#111" stroke-width="0.8" />
<text x="340.20" y="291.76" font-size="7.3" fill="#111" font-weight="bold" stroke="#111" stroke-width="0.29" text-anchor="end" textLength="10.35" lengthAdjust="spacingAndGlyphs" >800</text>
<line x1="368.50" y1="372.80" x2="368.50" y2="374.80" stroke="#111" stroke-width="0.8" />
<line x1="401.00" y1="372.80" x2="401.00" y2="374.80" stroke="#111" stroke-width="0.8" />
<line x1="433.90" y1="372.80" x2="433.90" y2="374.80" stroke="#111" stroke-width="0.8" />
<line x1="465.80" y1="372.80" x2="465.80" y2="374.80" stroke="#111" stroke-width="0.8" />
<line x1="497.50" y1="372.80" x2="497.50" y2="374.80" stroke="#111" stroke-width="0.8" />
<text x="310.20" y="328.30" font-size="7.6" fill="#111" font-weight="bold" stroke="#111" stroke-width="0.30" text-anchor="middle" textLength="12.70" lengthAdjust="spacingAndGlyphs" transform="rotate(-90 310.20 328.30)" >AUC</text>
<text x="320.60" y="325.60" font-size="7.4" fill="#111" font-weight="bold" stroke="#111" stroke-width="0.30" text-anchor="middle" textLength="68.60" lengthAdjust="spacingAndGlyphs" transform="rotate(-90 320.60 325.60)" >(up to 55 days, ×10<tspan dy="-2.4" font-size="4.6">6</tspan><tspan dy="2.4">)</tspan></text>
<text x="352.00" y="286.00" font-size="6.3" fill="#c8203a" font-weight="bold" stroke="#c8203a" stroke-width="0.10" textLength="25.60" lengthAdjust="spacingAndGlyphs" >410 ± 103</text>
<text x="386.10" y="294.50" font-size="6.3" fill="#2fa6d6" font-weight="bold" stroke="#2fa6d6" stroke-width="0.10" textLength="25.80" lengthAdjust="spacingAndGlyphs" >476 ± 106</text>
<text x="421.50" y="281.10" font-size="6.3" fill="#22a050" font-weight="bold" stroke="#22a050" stroke-width="0.10" textLength="22.80" lengthAdjust="spacingAndGlyphs" >356 ± 97</text>
<text x="448.30" y="320.90" font-size="6.3" fill="#e07b2e" font-weight="bold" stroke="#e07b2e" stroke-width="0.10" textLength="26.30" lengthAdjust="spacingAndGlyphs" >261 ± 102</text>
<text x="481.70" y="329.00" font-size="6.3" fill="#111" font-weight="bold" stroke="#111" stroke-width="0.10" textLength="25.20" lengthAdjust="spacingAndGlyphs" >223 ± 102</text>
<ellipse cx="369.20" cy="305.00" rx="1.90" ry="1.35" fill="#111" />
<ellipse cx="365.80" cy="315.00" rx="1.90" ry="1.35" fill="#111" />
<ellipse cx="372.70" cy="315.00" rx="1.90" ry="1.35" fill="#111" />
<ellipse cx="369.20" cy="351.60" rx="1.90" ry="1.35" fill="#111" />
<ellipse cx="369.20" cy="362.00" rx="1.90" ry="1.35" fill="#111" />
<ellipse cx="369.20" cy="368.50" rx="1.90" ry="1.35" fill="#111" />
<ellipse cx="398.00" cy="308.50" rx="1.90" ry="1.35" fill="#111" />
<ellipse cx="405.00" cy="308.50" rx="1.90" ry="1.35" fill="#111" />
<ellipse cx="401.50" cy="321.80" rx="1.90" ry="1.35" fill="#111" />
<ellipse cx="401.50" cy="335.00" rx="1.90" ry="1.35" fill="#111" />
<ellipse cx="401.50" cy="348.40" rx="1.90" ry="1.35" fill="#111" />
<ellipse cx="401.50" cy="368.50" rx="1.90" ry="1.35" fill="#111" />
<ellipse cx="433.90" cy="284.20" rx="1.90" ry="1.35" fill="#111" />
<ellipse cx="433.90" cy="295.00" rx="1.90" ry="1.35" fill="#111" />
<ellipse cx="433.90" cy="335.00" rx="1.90" ry="1.35" fill="#111" />
<ellipse cx="427.20" cy="368.50" rx="1.90" ry="1.35" fill="#111" />
<ellipse cx="433.90" cy="365.50" rx="1.90" ry="1.35" fill="#111" />
<ellipse cx="433.90" cy="368.50" rx="1.90" ry="1.35" fill="#111" />
<ellipse cx="440.40" cy="368.50" rx="1.90" ry="1.35" fill="#111" />
<ellipse cx="465.80" cy="341.20" rx="1.90" ry="1.35" fill="#111" />
<ellipse cx="465.80" cy="345.00" rx="1.90" ry="1.35" fill="#111" />
<ellipse cx="459.50" cy="355.00" rx="1.90" ry="1.35" fill="#111" />
<ellipse cx="465.80" cy="355.00" rx="1.90" ry="1.35" fill="#111" />
<ellipse cx="472.00" cy="355.00" rx="1.90" ry="1.35" fill="#111" />
<ellipse cx="462.80" cy="358.50" rx="1.90" ry="1.35" fill="#111" />
<ellipse cx="468.80" cy="358.50" rx="1.90" ry="1.35" fill="#111" />
<ellipse cx="494.60" cy="335.00" rx="1.90" ry="1.35" fill="#111" />
<ellipse cx="501.00" cy="335.00" rx="1.90" ry="1.35" fill="#111" />
<ellipse cx="494.60" cy="362.00" rx="1.90" ry="1.35" fill="#111" />
<ellipse cx="501.00" cy="362.00" rx="1.90" ry="1.35" fill="#111" />
<ellipse cx="494.60" cy="365.50" rx="1.90" ry="1.35" fill="#111" />
<ellipse cx="498.00" cy="368.50" rx="1.90" ry="1.35" fill="#111" />
<text x="363.10" y="385.60" font-size="6.3" fill="#c8203a" font-weight="bold" stroke="#c8203a" stroke-width="0.25" textLength="7.80" lengthAdjust="spacingAndGlyphs" >NB</text>
<text x="358.20" y="392.80" font-size="6.3" fill="#c8203a" font-weight="bold" stroke="#c8203a" stroke-width="0.25" textLength="18.00" lengthAdjust="spacingAndGlyphs" >Vehicle</text>
<text x="392.20" y="385.60" font-size="6.3" fill="#2fa6d6" font-weight="bold" stroke="#2fa6d6" stroke-width="0.25" textLength="7.40" lengthAdjust="spacingAndGlyphs" >NB</text>
<text x="401.10" y="385.60" font-size="6.3" fill="#2fa6d6" font-weight="bold" stroke="#2fa6d6" stroke-width="0.25" textLength="2.80" lengthAdjust="spacingAndGlyphs" >+</text>
<text x="385.60" y="392.80" font-size="6.3" fill="#2fa6d6" font-weight="bold" stroke="#2fa6d6" stroke-width="0.25" textLength="23.60" lengthAdjust="spacingAndGlyphs" >CAF-MSC</text>
<text x="389.20" y="400.20" font-size="6.3" fill="#2fa6d6" font-weight="bold" stroke="#2fa6d6" stroke-width="0.25" textLength="18.00" lengthAdjust="spacingAndGlyphs" >Vehicle</text>
<text x="425.50" y="385.60" font-size="6.3" fill="#22a050" font-weight="bold" stroke="#22a050" stroke-width="0.25" textLength="7.40" lengthAdjust="spacingAndGlyphs" >NB</text>
<text x="434.80" y="385.60" font-size="6.3" fill="#22a050" font-weight="bold" stroke="#22a050" stroke-width="0.25" textLength="2.80" lengthAdjust="spacingAndGlyphs" >+</text>
<text x="419.40" y="392.80" font-size="6.3" fill="#22a050" font-weight="bold" stroke="#22a050" stroke-width="0.25" textLength="23.90" lengthAdjust="spacingAndGlyphs" >CAF-MSC</text>
<text x="429.30" y="400.20" font-size="6.3" fill="#22a050" font-weight="bold" stroke="#22a050" stroke-width="0.25" textLength="3.70" lengthAdjust="spacingAndGlyphs" >R</text>
<text x="457.80" y="385.60" font-size="6.3" fill="#e07b2e" font-weight="bold" stroke="#e07b2e" stroke-width="0.25" textLength="7.40" lengthAdjust="spacingAndGlyphs" >NB</text>
<text x="467.20" y="385.60" font-size="6.3" fill="#e07b2e" font-weight="bold" stroke="#e07b2e" stroke-width="0.25" textLength="2.80" lengthAdjust="spacingAndGlyphs" >+</text>
<text x="452.40" y="392.80" font-size="6.3" fill="#e07b2e" font-weight="bold" stroke="#e07b2e" stroke-width="0.25" textLength="23.20" lengthAdjust="spacingAndGlyphs" >CAF-MSC</text>
<text x="462.30" y="400.20" font-size="6.3" fill="#e07b2e" font-weight="bold" stroke="#e07b2e" stroke-width="0.25" textLength="3.80" lengthAdjust="spacingAndGlyphs" >T</text>
<text x="492.20" y="385.60" font-size="6.3" fill="#111" font-weight="bold" stroke="#111" stroke-width="0.25" textLength="7.40" lengthAdjust="spacingAndGlyphs" >NB</text>
<text x="502.10" y="385.60" font-size="6.3" fill="#111" font-weight="bold" stroke="#111" stroke-width="0.25" textLength="2.80" lengthAdjust="spacingAndGlyphs" >+</text>
<text x="486.70" y="392.80" font-size="6.3" fill="#111" font-weight="bold" stroke="#111" stroke-width="0.25" textLength="23.70" lengthAdjust="spacingAndGlyphs" >CAF-MSC</text>
<text x="491.80" y="400.20" font-size="6.3" fill="#111" font-weight="bold" stroke="#111" stroke-width="0.25" textLength="13.10" lengthAdjust="spacingAndGlyphs" >R + T</text>
</svg>
</body></html>
